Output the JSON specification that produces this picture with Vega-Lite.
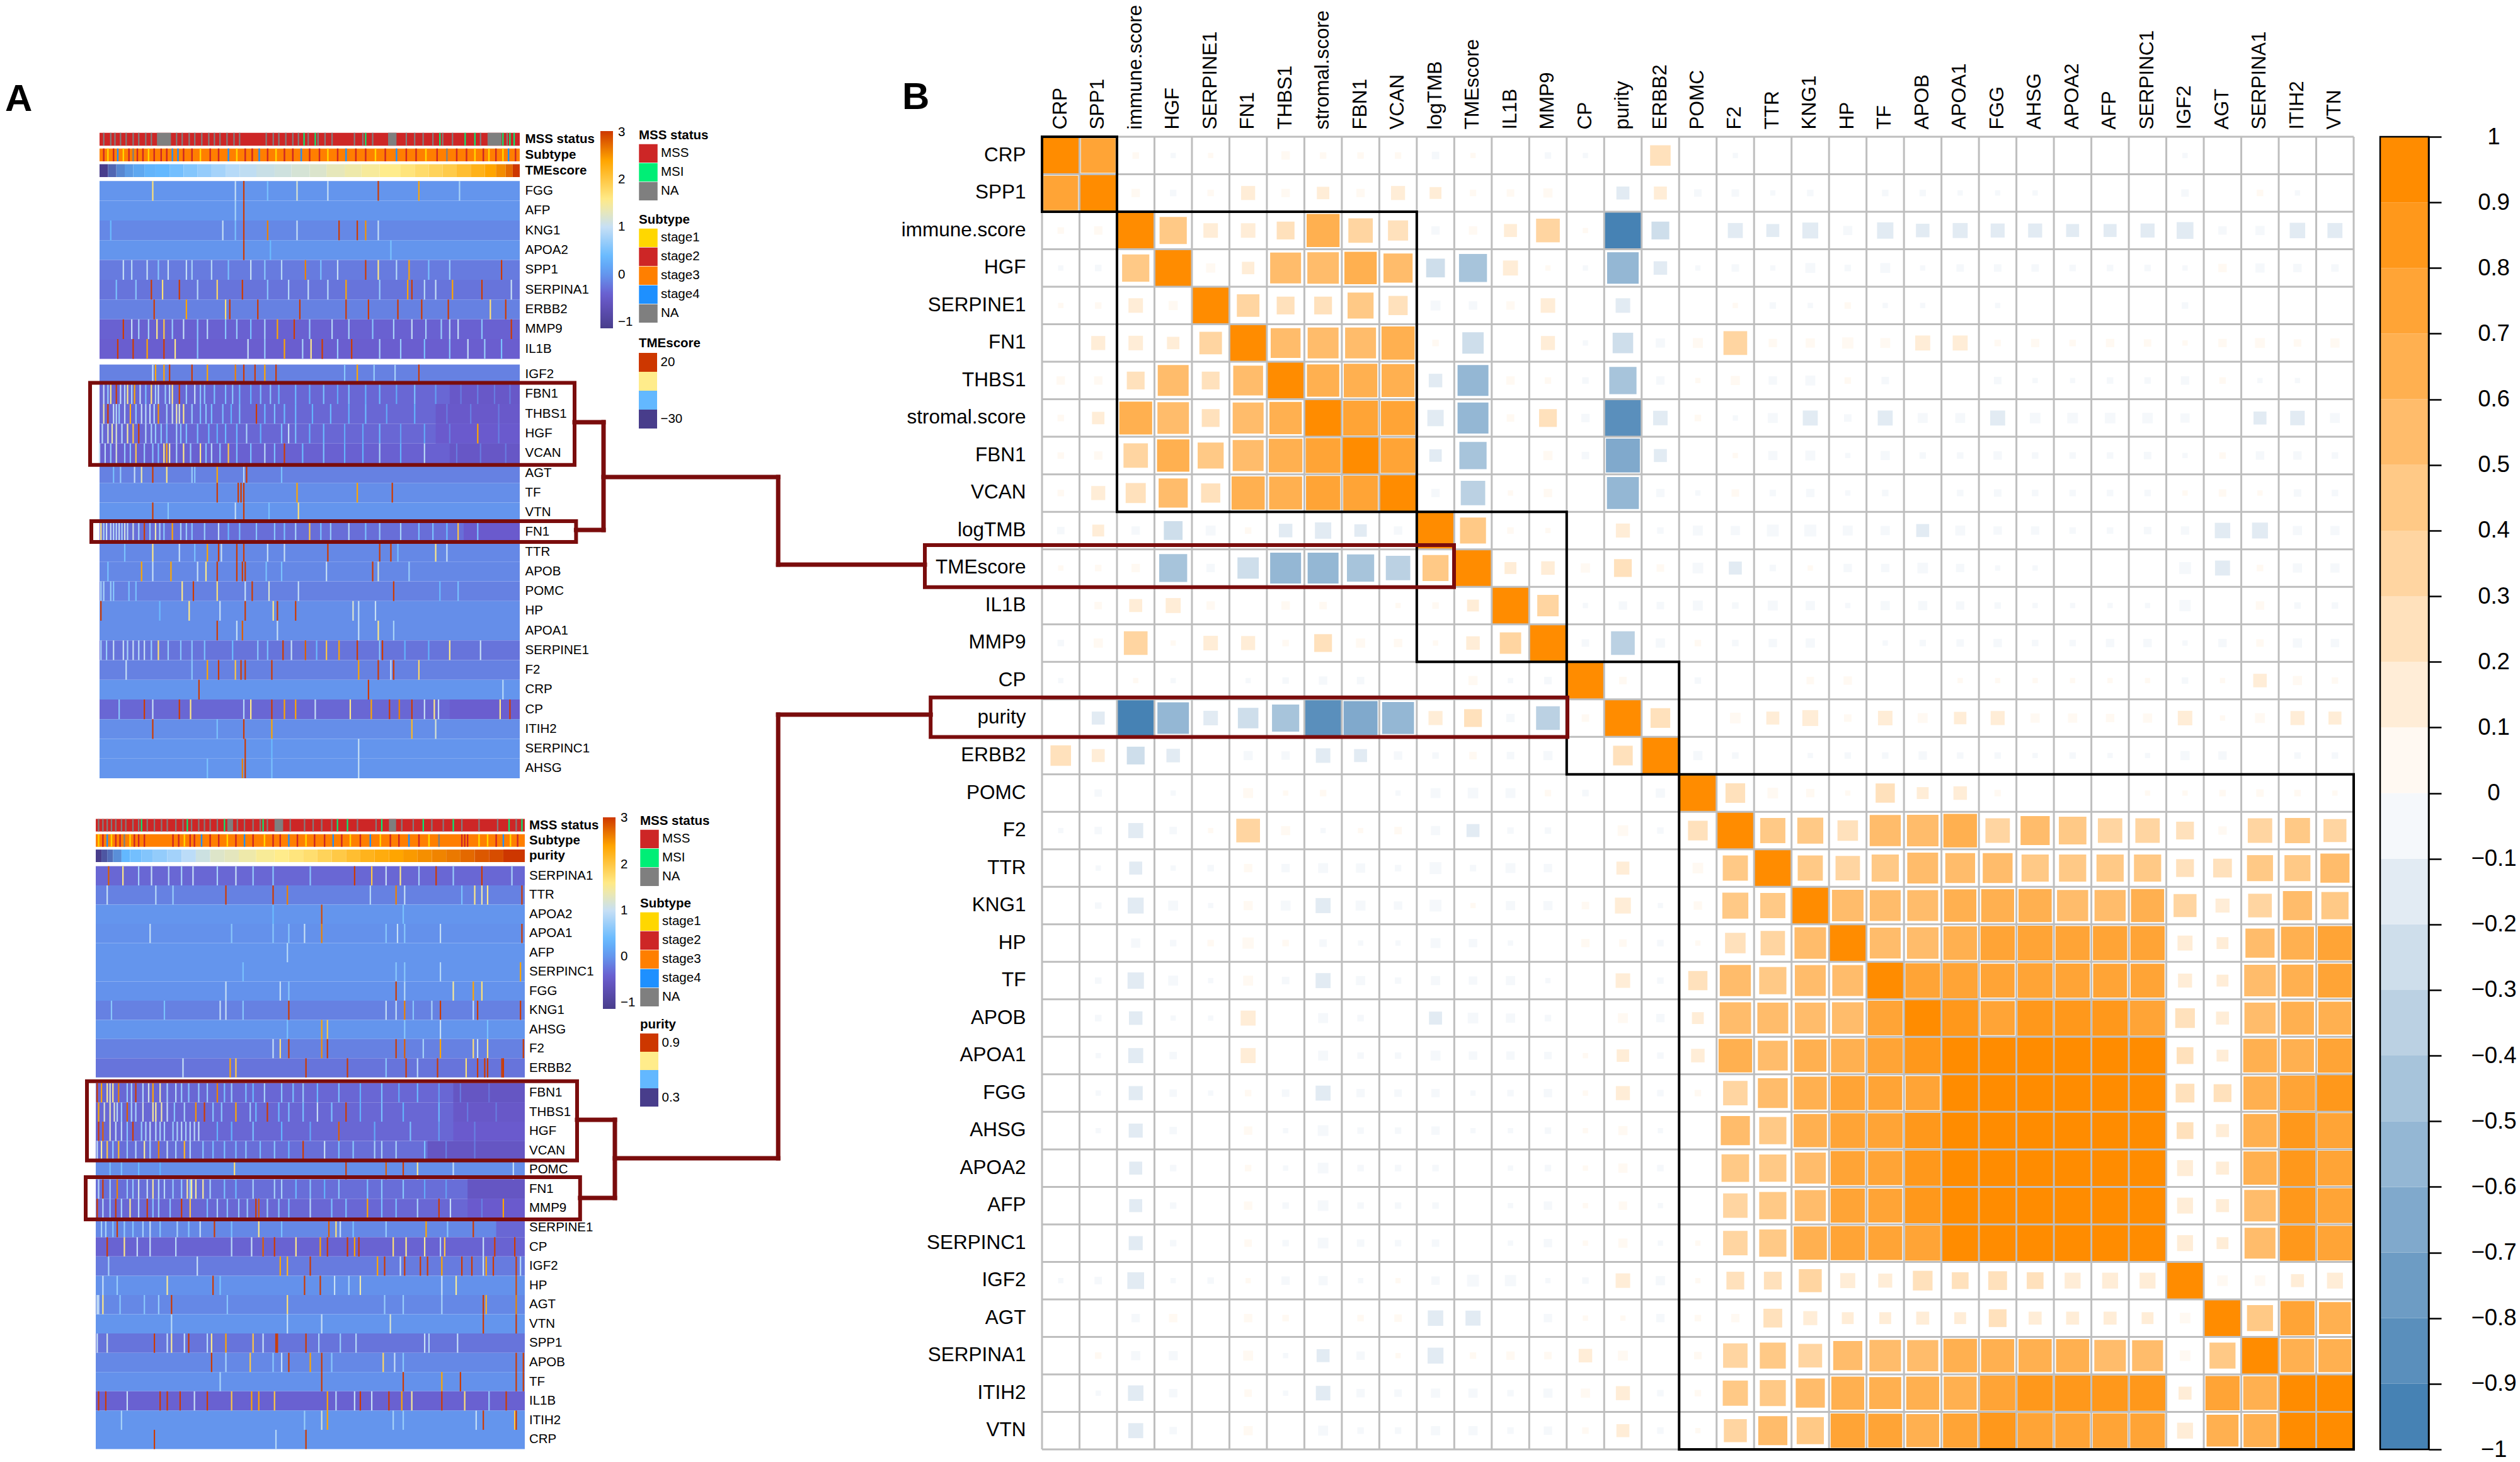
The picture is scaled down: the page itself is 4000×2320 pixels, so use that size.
{"$schema":"https://vega.github.io/schema/vega-lite/v6.json","width":4000,"height":2320,"autosize":{"type":"fit","contains":"padding"},"padding":0,"background":"white",
"config":{"view":{"stroke":null},"font":"Liberation Sans","axis":{"labelFont":"Liberation Sans","labelColor":"#000","ticks":false,"domain":false,"grid":false,"title":null,"labelOverlap":false,"labelBound":false,"labelFlush":false,"labelLimit":600},"legend":{"labelFont":"Liberation Sans","titleFont":"Liberation Sans","labelFontSize":20.5,"titleFontSize":20.5,"titleFontWeight":"bold","labelColor":"#000","titleColor":"#000","orient":"none","symbolType":"square","symbolSize":870,"symbolStrokeWidth":0,"symbolOpacity":1,"rowPadding":0,"titlePadding":3,"labelOffset":5,"clipHeight":29.6,"labelLimit":0}},
"datasets":{
"corr":[
{"a":"CRP","b":"CRP","r":1},{"a":"CRP","b":"SPP1","r":0.75},{"a":"CRP","b":"immune.score","r":0.03},{"a":"CRP","b":"HGF","r":-0.02},{"a":"CRP","b":"SERPINE1","r":0.02},{"a":"CRP","b":"THBS1","r":0.05},{"a":"CRP","b":"stromal.score","r":0.03},{"a":"CRP","b":"FBN1","r":0.03},{"a":"CRP","b":"VCAN","r":0.03},{"a":"CRP","b":"logTMB","r":-0.04},{"a":"CRP","b":"TMEscore","r":0.02},{"a":"CRP","b":"MMP9","r":-0.03},{"a":"CRP","b":"CP","r":-0.02},{"a":"CRP","b":"ERBB2","r":0.28},{"a":"CRP","b":"F2","r":-0.02},{"a":"CRP","b":"IGF2","r":-0.02},
{"a":"SPP1","b":"SPP1","r":1},{"a":"SPP1","b":"immune.score","r":0.05},{"a":"SPP1","b":"HGF","r":-0.03},{"a":"SPP1","b":"SERPINE1","r":0.03},{"a":"SPP1","b":"FN1","r":0.14},{"a":"SPP1","b":"THBS1","r":0.05},{"a":"SPP1","b":"stromal.score","r":0.11},{"a":"SPP1","b":"FBN1","r":0.05},{"a":"SPP1","b":"VCAN","r":0.14},{"a":"SPP1","b":"logTMB","r":0.1},{"a":"SPP1","b":"TMEscore","r":0.03},{"a":"SPP1","b":"IL1B","r":0.04},{"a":"SPP1","b":"MMP9","r":0.06},{"a":"SPP1","b":"purity","r":-0.12},{"a":"SPP1","b":"ERBB2","r":0.12},{"a":"SPP1","b":"POMC","r":-0.04},{"a":"SPP1","b":"F2","r":-0.04},{"a":"SPP1","b":"TTR","r":-0.02},{"a":"SPP1","b":"KNG1","r":-0.03},{"a":"SPP1","b":"TF","r":-0.03},{"a":"SPP1","b":"APOB","r":-0.03},{"a":"SPP1","b":"APOA1","r":-0.02},{"a":"SPP1","b":"FGG","r":-0.02},{"a":"SPP1","b":"AHSG","r":-0.02},{"a":"SPP1","b":"IGF2","r":-0.04},{"a":"SPP1","b":"SERPINA1","r":0.03},{"a":"SPP1","b":"ITIH2","r":-0.02},
{"a":"immune.score","b":"immune.score","r":1},{"a":"immune.score","b":"HGF","r":0.45},{"a":"immune.score","b":"SERPINE1","r":0.15},{"a":"immune.score","b":"FN1","r":0.15},{"a":"immune.score","b":"THBS1","r":0.22},{"a":"immune.score","b":"stromal.score","r":0.65},{"a":"immune.score","b":"FBN1","r":0.38},{"a":"immune.score","b":"VCAN","r":0.27},{"a":"immune.score","b":"logTMB","r":-0.05},{"a":"immune.score","b":"TMEscore","r":0.05},{"a":"immune.score","b":"IL1B","r":0.12},{"a":"immune.score","b":"MMP9","r":0.36},{"a":"immune.score","b":"CP","r":0.02},{"a":"immune.score","b":"purity","r":-0.95},{"a":"immune.score","b":"ERBB2","r":-0.22},{"a":"immune.score","b":"F2","r":-0.16},{"a":"immune.score","b":"TTR","r":-0.12},{"a":"immune.score","b":"KNG1","r":-0.18},{"a":"immune.score","b":"HP","r":-0.06},{"a":"immune.score","b":"TF","r":-0.19},{"a":"immune.score","b":"APOB","r":-0.13},{"a":"immune.score","b":"APOA1","r":-0.16},{"a":"immune.score","b":"FGG","r":-0.14},{"a":"immune.score","b":"AHSG","r":-0.14},{"a":"immune.score","b":"APOA2","r":-0.12},{"a":"immune.score","b":"AFP","r":-0.12},{"a":"immune.score","b":"SERPINC1","r":-0.14},{"a":"immune.score","b":"IGF2","r":-0.2},{"a":"immune.score","b":"AGT","r":-0.05},{"a":"immune.score","b":"SERPINA1","r":-0.06},{"a":"immune.score","b":"ITIH2","r":-0.17},{"a":"immune.score","b":"VTN","r":-0.16},
{"a":"HGF","b":"HGF","r":1},{"a":"HGF","b":"SERPINE1","r":0.06},{"a":"HGF","b":"FN1","r":0.11},{"a":"HGF","b":"THBS1","r":0.55},{"a":"HGF","b":"stromal.score","r":0.58},{"a":"HGF","b":"FBN1","r":0.62},{"a":"HGF","b":"VCAN","r":0.5},{"a":"HGF","b":"logTMB","r":-0.24},{"a":"HGF","b":"TMEscore","r":-0.47},{"a":"HGF","b":"IL1B","r":0.16},{"a":"HGF","b":"MMP9","r":0.02},{"a":"HGF","b":"CP","r":-0.02},{"a":"HGF","b":"purity","r":-0.58},{"a":"HGF","b":"ERBB2","r":-0.13},{"a":"HGF","b":"POMC","r":-0.02},{"a":"HGF","b":"F2","r":-0.04},{"a":"HGF","b":"TTR","r":-0.02},{"a":"HGF","b":"KNG1","r":-0.07},{"a":"HGF","b":"HP","r":-0.03},{"a":"HGF","b":"TF","r":-0.07},{"a":"HGF","b":"APOB","r":-0.02},{"a":"HGF","b":"APOA1","r":-0.04},{"a":"HGF","b":"FGG","r":-0.04},{"a":"HGF","b":"AHSG","r":-0.04},{"a":"HGF","b":"APOA2","r":-0.03},{"a":"HGF","b":"AFP","r":-0.03},{"a":"HGF","b":"SERPINC1","r":-0.03},{"a":"HGF","b":"IGF2","r":-0.02},{"a":"HGF","b":"AGT","r":0.05},{"a":"HGF","b":"SERPINA1","r":-0.06},{"a":"HGF","b":"ITIH2","r":-0.05},{"a":"HGF","b":"VTN","r":-0.04},
{"a":"SERPINE1","b":"SERPINE1","r":1},{"a":"SERPINE1","b":"FN1","r":0.33},{"a":"SERPINE1","b":"THBS1","r":0.22},{"a":"SERPINE1","b":"stromal.score","r":0.22},{"a":"SERPINE1","b":"FBN1","r":0.42},{"a":"SERPINE1","b":"VCAN","r":0.25},{"a":"SERPINE1","b":"logTMB","r":-0.07},{"a":"SERPINE1","b":"TMEscore","r":-0.05},{"a":"SERPINE1","b":"IL1B","r":0.05},{"a":"SERPINE1","b":"MMP9","r":0.15},{"a":"SERPINE1","b":"purity","r":-0.15},{"a":"SERPINE1","b":"F2","r":0.02},{"a":"SERPINE1","b":"TTR","r":-0.03},{"a":"SERPINE1","b":"KNG1","r":-0.02},{"a":"SERPINE1","b":"HP","r":0.03},{"a":"SERPINE1","b":"TF","r":-0.02},{"a":"SERPINE1","b":"APOB","r":-0.02},{"a":"SERPINE1","b":"FGG","r":-0.02},{"a":"SERPINE1","b":"IGF2","r":-0.03},
{"a":"FN1","b":"FN1","r":1},{"a":"FN1","b":"THBS1","r":0.52},{"a":"FN1","b":"stromal.score","r":0.55},{"a":"FN1","b":"FBN1","r":0.55},{"a":"FN1","b":"VCAN","r":0.66},{"a":"FN1","b":"logTMB","r":0.03},{"a":"FN1","b":"TMEscore","r":-0.3},{"a":"FN1","b":"MMP9","r":0.14},{"a":"FN1","b":"CP","r":-0.02},{"a":"FN1","b":"purity","r":-0.28},{"a":"FN1","b":"ERBB2","r":-0.06},{"a":"FN1","b":"POMC","r":0.07},{"a":"FN1","b":"F2","r":0.36},{"a":"FN1","b":"TTR","r":0.05},{"a":"FN1","b":"KNG1","r":0.06},{"a":"FN1","b":"HP","r":0.09},{"a":"FN1","b":"TF","r":0.07},{"a":"FN1","b":"APOB","r":0.16},{"a":"FN1","b":"APOA1","r":0.16},{"a":"FN1","b":"FGG","r":0.03},{"a":"FN1","b":"AHSG","r":0.05},{"a":"FN1","b":"APOA2","r":0.03},{"a":"FN1","b":"AFP","r":0.05},{"a":"FN1","b":"SERPINC1","r":0.04},{"a":"FN1","b":"IGF2","r":0.02},{"a":"FN1","b":"AGT","r":0.05},{"a":"FN1","b":"SERPINA1","r":0.07},{"a":"FN1","b":"ITIH2","r":0.04},{"a":"FN1","b":"VTN","r":0.06},
{"a":"THBS1","b":"THBS1","r":1},{"a":"THBS1","b":"stromal.score","r":0.62},{"a":"THBS1","b":"FBN1","r":0.68},{"a":"THBS1","b":"VCAN","r":0.65},{"a":"THBS1","b":"logTMB","r":-0.13},{"a":"THBS1","b":"TMEscore","r":-0.55},{"a":"THBS1","b":"IL1B","r":0.05},{"a":"THBS1","b":"MMP9","r":0.03},{"a":"THBS1","b":"CP","r":-0.03},{"a":"THBS1","b":"purity","r":-0.45},{"a":"THBS1","b":"ERBB2","r":-0.05},{"a":"THBS1","b":"POMC","r":0.02},{"a":"THBS1","b":"F2","r":0.06},{"a":"THBS1","b":"TTR","r":-0.05},{"a":"THBS1","b":"KNG1","r":-0.07},{"a":"THBS1","b":"HP","r":0.03},{"a":"THBS1","b":"TF","r":-0.04},{"a":"THBS1","b":"FGG","r":-0.04},{"a":"THBS1","b":"AHSG","r":-0.02},{"a":"THBS1","b":"APOA2","r":-0.02},{"a":"THBS1","b":"AFP","r":-0.03},{"a":"THBS1","b":"SERPINC1","r":-0.03},{"a":"THBS1","b":"IGF2","r":-0.05},{"a":"THBS1","b":"AGT","r":0.03},{"a":"THBS1","b":"SERPINA1","r":-0.02},{"a":"THBS1","b":"ITIH2","r":-0.02},
{"a":"stromal.score","b":"stromal.score","r":1},{"a":"stromal.score","b":"FBN1","r":0.76},{"a":"stromal.score","b":"VCAN","r":0.72},{"a":"stromal.score","b":"logTMB","r":-0.19},{"a":"stromal.score","b":"TMEscore","r":-0.55},{"a":"stromal.score","b":"IL1B","r":0.04},{"a":"stromal.score","b":"MMP9","r":0.22},{"a":"stromal.score","b":"CP","r":-0.05},{"a":"stromal.score","b":"purity","r":-0.87},{"a":"stromal.score","b":"ERBB2","r":-0.15},{"a":"stromal.score","b":"POMC","r":0.03},{"a":"stromal.score","b":"F2","r":-0.02},{"a":"stromal.score","b":"TTR","r":-0.07},{"a":"stromal.score","b":"KNG1","r":-0.16},{"a":"stromal.score","b":"HP","r":-0.04},{"a":"stromal.score","b":"TF","r":-0.16},{"a":"stromal.score","b":"APOB","r":-0.07},{"a":"stromal.score","b":"APOA1","r":-0.07},{"a":"stromal.score","b":"FGG","r":-0.16},{"a":"stromal.score","b":"AHSG","r":-0.08},{"a":"stromal.score","b":"APOA2","r":-0.08},{"a":"stromal.score","b":"AFP","r":-0.08},{"a":"stromal.score","b":"SERPINC1","r":-0.08},{"a":"stromal.score","b":"IGF2","r":-0.06},{"a":"stromal.score","b":"SERPINA1","r":-0.12},{"a":"stromal.score","b":"ITIH2","r":-0.15},{"a":"stromal.score","b":"VTN","r":-0.07},
{"a":"FBN1","b":"FBN1","r":1},{"a":"FBN1","b":"VCAN","r":0.75},{"a":"FBN1","b":"logTMB","r":-0.11},{"a":"FBN1","b":"TMEscore","r":-0.45},{"a":"FBN1","b":"MMP9","r":0.06},{"a":"FBN1","b":"CP","r":-0.04},{"a":"FBN1","b":"purity","r":-0.7},{"a":"FBN1","b":"ERBB2","r":-0.12},{"a":"FBN1","b":"F2","r":0.02},{"a":"FBN1","b":"TTR","r":-0.06},{"a":"FBN1","b":"KNG1","r":-0.07},{"a":"FBN1","b":"HP","r":-0.02},{"a":"FBN1","b":"TF","r":-0.06},{"a":"FBN1","b":"APOB","r":-0.03},{"a":"FBN1","b":"APOA1","r":-0.03},{"a":"FBN1","b":"FGG","r":-0.05},{"a":"FBN1","b":"AHSG","r":-0.03},{"a":"FBN1","b":"APOA2","r":-0.03},{"a":"FBN1","b":"AFP","r":-0.03},{"a":"FBN1","b":"SERPINC1","r":-0.04},{"a":"FBN1","b":"IGF2","r":-0.02},{"a":"FBN1","b":"AGT","r":0.03},{"a":"FBN1","b":"SERPINA1","r":-0.05},{"a":"FBN1","b":"ITIH2","r":-0.05},{"a":"FBN1","b":"VTN","r":-0.03},
{"a":"VCAN","b":"VCAN","r":1},{"a":"VCAN","b":"logTMB","r":-0.05},{"a":"VCAN","b":"TMEscore","r":-0.38},{"a":"VCAN","b":"IL1B","r":0.02},{"a":"VCAN","b":"MMP9","r":0.05},{"a":"VCAN","b":"purity","r":-0.6},{"a":"VCAN","b":"ERBB2","r":-0.05},{"a":"VCAN","b":"POMC","r":-0.02},{"a":"VCAN","b":"F2","r":0.04},{"a":"VCAN","b":"TTR","r":-0.03},{"a":"VCAN","b":"KNG1","r":-0.05},{"a":"VCAN","b":"HP","r":-0.02},{"a":"VCAN","b":"TF","r":-0.03},{"a":"VCAN","b":"APOA1","r":-0.03},{"a":"VCAN","b":"FGG","r":-0.04},{"a":"VCAN","b":"AHSG","r":-0.03},{"a":"VCAN","b":"APOA2","r":-0.03},{"a":"VCAN","b":"AFP","r":-0.03},{"a":"VCAN","b":"SERPINC1","r":-0.03},{"a":"VCAN","b":"IGF2","r":0.02},{"a":"VCAN","b":"AGT","r":0.04},{"a":"VCAN","b":"SERPINA1","r":0.02},{"a":"VCAN","b":"ITIH2","r":-0.04},{"a":"VCAN","b":"VTN","r":-0.03},
{"a":"logTMB","b":"logTMB","r":1},{"a":"logTMB","b":"TMEscore","r":0.42},{"a":"logTMB","b":"IL1B","r":0.03},{"a":"logTMB","b":"MMP9","r":0.02},{"a":"logTMB","b":"purity","r":0.14},{"a":"logTMB","b":"ERBB2","r":-0.03},{"a":"logTMB","b":"POMC","r":-0.07},{"a":"logTMB","b":"F2","r":-0.06},{"a":"logTMB","b":"TTR","r":-0.1},{"a":"logTMB","b":"KNG1","r":-0.1},{"a":"logTMB","b":"HP","r":-0.07},{"a":"logTMB","b":"TF","r":-0.06},{"a":"logTMB","b":"APOB","r":-0.12},{"a":"logTMB","b":"APOA1","r":-0.07},{"a":"logTMB","b":"FGG","r":-0.05},{"a":"logTMB","b":"AHSG","r":-0.05},{"a":"logTMB","b":"APOA2","r":-0.03},{"a":"logTMB","b":"AFP","r":-0.03},{"a":"logTMB","b":"SERPINC1","r":-0.04},{"a":"logTMB","b":"IGF2","r":-0.05},{"a":"logTMB","b":"AGT","r":-0.17},{"a":"logTMB","b":"SERPINA1","r":-0.18},{"a":"logTMB","b":"ITIH2","r":-0.06},{"a":"logTMB","b":"VTN","r":-0.06},
{"a":"TMEscore","b":"TMEscore","r":1},{"a":"TMEscore","b":"IL1B","r":0.1},{"a":"TMEscore","b":"MMP9","r":0.13},{"a":"TMEscore","b":"CP","r":0.06},{"a":"TMEscore","b":"purity","r":0.22},{"a":"TMEscore","b":"ERBB2","r":0.04},{"a":"TMEscore","b":"POMC","r":-0.08},{"a":"TMEscore","b":"F2","r":-0.12},{"a":"TMEscore","b":"TTR","r":-0.03},{"a":"TMEscore","b":"KNG1","r":0.02},{"a":"TMEscore","b":"HP","r":-0.05},{"a":"TMEscore","b":"TF","r":-0.05},{"a":"TMEscore","b":"APOB","r":-0.08},{"a":"TMEscore","b":"APOA1","r":-0.05},{"a":"TMEscore","b":"FGG","r":-0.02},{"a":"TMEscore","b":"AHSG","r":-0.02},{"a":"TMEscore","b":"IGF2","r":-0.1},{"a":"TMEscore","b":"AGT","r":-0.16},{"a":"TMEscore","b":"SERPINA1","r":0.03},{"a":"TMEscore","b":"ITIH2","r":-0.06},{"a":"TMEscore","b":"VTN","r":-0.06},
{"a":"IL1B","b":"IL1B","r":1},{"a":"IL1B","b":"MMP9","r":0.3},{"a":"IL1B","b":"CP","r":-0.02},{"a":"IL1B","b":"purity","r":-0.05},{"a":"IL1B","b":"ERBB2","r":-0.04},{"a":"IL1B","b":"POMC","r":-0.07},{"a":"IL1B","b":"F2","r":-0.03},{"a":"IL1B","b":"TTR","r":-0.07},{"a":"IL1B","b":"KNG1","r":-0.06},{"a":"IL1B","b":"HP","r":-0.02},{"a":"IL1B","b":"TF","r":-0.06},{"a":"IL1B","b":"APOB","r":-0.06},{"a":"IL1B","b":"APOA1","r":-0.05},{"a":"IL1B","b":"FGG","r":-0.03},{"a":"IL1B","b":"AHSG","r":-0.02},{"a":"IL1B","b":"APOA2","r":-0.02},{"a":"IL1B","b":"AFP","r":-0.02},{"a":"IL1B","b":"SERPINC1","r":-0.02},{"a":"IL1B","b":"IGF2","r":-0.09},{"a":"IL1B","b":"SERPINA1","r":0.05},{"a":"IL1B","b":"ITIH2","r":-0.03},{"a":"IL1B","b":"VTN","r":-0.03},
{"a":"MMP9","b":"MMP9","r":1},{"a":"MMP9","b":"CP","r":-0.04},{"a":"MMP9","b":"purity","r":-0.36},{"a":"MMP9","b":"ERBB2","r":-0.06},{"a":"MMP9","b":"POMC","r":0.03},{"a":"MMP9","b":"F2","r":-0.03},{"a":"MMP9","b":"TTR","r":-0.05},{"a":"MMP9","b":"KNG1","r":-0.06},{"a":"MMP9","b":"TF","r":-0.02},{"a":"MMP9","b":"APOB","r":-0.03},{"a":"MMP9","b":"APOA1","r":-0.04},{"a":"MMP9","b":"FGG","r":-0.05},{"a":"MMP9","b":"AHSG","r":-0.03},{"a":"MMP9","b":"APOA2","r":-0.03},{"a":"MMP9","b":"AFP","r":-0.05},{"a":"MMP9","b":"SERPINC1","r":-0.05},{"a":"MMP9","b":"IGF2","r":-0.02},{"a":"MMP9","b":"AGT","r":-0.05},{"a":"MMP9","b":"SERPINA1","r":0.04},{"a":"MMP9","b":"ITIH2","r":-0.06},{"a":"MMP9","b":"VTN","r":-0.05},
{"a":"CP","b":"CP","r":1},{"a":"CP","b":"purity","r":0.04},{"a":"CP","b":"POMC","r":-0.03},{"a":"CP","b":"KNG1","r":0.04},{"a":"CP","b":"HP","r":0.05},{"a":"CP","b":"APOA1","r":0.02},{"a":"CP","b":"FGG","r":0.02},{"a":"CP","b":"AHSG","r":0.02},{"a":"CP","b":"APOA2","r":0.02},{"a":"CP","b":"AFP","r":0.02},{"a":"CP","b":"SERPINC1","r":0.02},{"a":"CP","b":"IGF2","r":-0.03},{"a":"CP","b":"AGT","r":0.02},{"a":"CP","b":"SERPINA1","r":0.13},{"a":"CP","b":"ITIH2","r":0.06},{"a":"CP","b":"VTN","r":0.03},
{"a":"purity","b":"purity","r":1},{"a":"purity","b":"ERBB2","r":0.26},{"a":"purity","b":"F2","r":0.08},{"a":"purity","b":"TTR","r":0.12},{"a":"purity","b":"KNG1","r":0.18},{"a":"purity","b":"HP","r":0.04},{"a":"purity","b":"TF","r":0.15},{"a":"purity","b":"APOB","r":0.07},{"a":"purity","b":"APOA1","r":0.11},{"a":"purity","b":"FGG","r":0.14},{"a":"purity","b":"AHSG","r":0.06},{"a":"purity","b":"APOA2","r":0.06},{"a":"purity","b":"AFP","r":0.05},{"a":"purity","b":"SERPINC1","r":0.06},{"a":"purity","b":"IGF2","r":0.15},{"a":"purity","b":"AGT","r":0.02},{"a":"purity","b":"SERPINA1","r":0.07},{"a":"purity","b":"ITIH2","r":0.14},{"a":"purity","b":"VTN","r":0.12},
{"a":"ERBB2","b":"ERBB2","r":1},{"a":"ERBB2","b":"POMC","r":-0.06},{"a":"ERBB2","b":"F2","r":-0.03},{"a":"ERBB2","b":"KNG1","r":-0.02},{"a":"ERBB2","b":"HP","r":-0.03},{"a":"ERBB2","b":"TF","r":-0.03},{"a":"ERBB2","b":"APOB","r":-0.05},{"a":"ERBB2","b":"APOA1","r":-0.03},{"a":"ERBB2","b":"FGG","r":-0.03},{"a":"ERBB2","b":"AHSG","r":-0.02},{"a":"ERBB2","b":"APOA2","r":-0.03},{"a":"ERBB2","b":"AFP","r":-0.02},{"a":"ERBB2","b":"SERPINC1","r":-0.02},{"a":"ERBB2","b":"IGF2","r":-0.06},{"a":"ERBB2","b":"AGT","r":-0.05},{"a":"ERBB2","b":"ITIH2","r":-0.03},{"a":"ERBB2","b":"VTN","r":-0.03},
{"a":"POMC","b":"POMC","r":1},{"a":"POMC","b":"F2","r":0.26},{"a":"POMC","b":"TTR","r":0.08},{"a":"POMC","b":"KNG1","r":0.05},{"a":"POMC","b":"HP","r":0.02},{"a":"POMC","b":"TF","r":0.25},{"a":"POMC","b":"APOB","r":0.1},{"a":"POMC","b":"APOA1","r":0.13},{"a":"POMC","b":"FGG","r":0.03},{"a":"POMC","b":"SERPINC1","r":0.02},{"a":"POMC","b":"IGF2","r":0.02},{"a":"POMC","b":"AGT","r":0.03},{"a":"POMC","b":"SERPINA1","r":0.04},{"a":"POMC","b":"ITIH2","r":0.03},{"a":"POMC","b":"VTN","r":0.02},
{"a":"F2","b":"F2","r":1},{"a":"F2","b":"TTR","r":0.4},{"a":"F2","b":"KNG1","r":0.42},{"a":"F2","b":"HP","r":0.28},{"a":"F2","b":"TF","r":0.56},{"a":"F2","b":"APOB","r":0.58},{"a":"F2","b":"APOA1","r":0.68},{"a":"F2","b":"FGG","r":0.38},{"a":"F2","b":"AHSG","r":0.5},{"a":"F2","b":"APOA2","r":0.46},{"a":"F2","b":"AFP","r":0.38},{"a":"F2","b":"SERPINC1","r":0.38},{"a":"F2","b":"IGF2","r":0.22},{"a":"F2","b":"AGT","r":0.05},{"a":"F2","b":"SERPINA1","r":0.38},{"a":"F2","b":"ITIH2","r":0.4},{"a":"F2","b":"VTN","r":0.34},
{"a":"TTR","b":"TTR","r":1},{"a":"TTR","b":"KNG1","r":0.4},{"a":"TTR","b":"HP","r":0.38},{"a":"TTR","b":"TF","r":0.45},{"a":"TTR","b":"APOB","r":0.55},{"a":"TTR","b":"APOA1","r":0.52},{"a":"TTR","b":"FGG","r":0.52},{"a":"TTR","b":"AHSG","r":0.45},{"a":"TTR","b":"APOA2","r":0.45},{"a":"TTR","b":"AFP","r":0.45},{"a":"TTR","b":"SERPINC1","r":0.45},{"a":"TTR","b":"IGF2","r":0.22},{"a":"TTR","b":"AGT","r":0.24},{"a":"TTR","b":"SERPINA1","r":0.42},{"a":"TTR","b":"ITIH2","r":0.42},{"a":"TTR","b":"VTN","r":0.5},
{"a":"KNG1","b":"KNG1","r":1},{"a":"KNG1","b":"HP","r":0.58},{"a":"KNG1","b":"TF","r":0.55},{"a":"KNG1","b":"APOB","r":0.55},{"a":"KNG1","b":"APOA1","r":0.62},{"a":"KNG1","b":"FGG","r":0.65},{"a":"KNG1","b":"AHSG","r":0.66},{"a":"KNG1","b":"APOA2","r":0.56},{"a":"KNG1","b":"AFP","r":0.56},{"a":"KNG1","b":"SERPINC1","r":0.66},{"a":"KNG1","b":"IGF2","r":0.34},{"a":"KNG1","b":"AGT","r":0.14},{"a":"KNG1","b":"SERPINA1","r":0.36},{"a":"KNG1","b":"ITIH2","r":0.5},{"a":"KNG1","b":"VTN","r":0.45},
{"a":"HP","b":"HP","r":1},{"a":"HP","b":"TF","r":0.55},{"a":"HP","b":"APOB","r":0.58},{"a":"HP","b":"APOA1","r":0.68},{"a":"HP","b":"FGG","r":0.72},{"a":"HP","b":"AHSG","r":0.75},{"a":"HP","b":"APOA2","r":0.72},{"a":"HP","b":"AFP","r":0.72},{"a":"HP","b":"SERPINC1","r":0.72},{"a":"HP","b":"IGF2","r":0.16},{"a":"HP","b":"AGT","r":0.1},{"a":"HP","b":"SERPINA1","r":0.5},{"a":"HP","b":"ITIH2","r":0.65},{"a":"HP","b":"VTN","r":0.72},
{"a":"TF","b":"TF","r":1},{"a":"TF","b":"APOB","r":0.75},{"a":"TF","b":"APOA1","r":0.78},{"a":"TF","b":"FGG","r":0.7},{"a":"TF","b":"AHSG","r":0.75},{"a":"TF","b":"APOA2","r":0.72},{"a":"TF","b":"AFP","r":0.7},{"a":"TF","b":"SERPINC1","r":0.7},{"a":"TF","b":"IGF2","r":0.14},{"a":"TF","b":"AGT","r":0.1},{"a":"TF","b":"SERPINA1","r":0.58},{"a":"TF","b":"ITIH2","r":0.6},{"a":"TF","b":"VTN","r":0.7},
{"a":"APOB","b":"APOB","r":1},{"a":"APOB","b":"APOA1","r":0.85},{"a":"APOB","b":"FGG","r":0.72},{"a":"APOB","b":"AHSG","r":0.8},{"a":"APOB","b":"APOA2","r":0.8},{"a":"APOB","b":"AFP","r":0.8},{"a":"APOB","b":"SERPINC1","r":0.78},{"a":"APOB","b":"IGF2","r":0.26},{"a":"APOB","b":"AGT","r":0.12},{"a":"APOB","b":"SERPINA1","r":0.56},{"a":"APOB","b":"ITIH2","r":0.65},{"a":"APOB","b":"VTN","r":0.65},
{"a":"APOA1","b":"APOA1","r":1},{"a":"APOA1","b":"FGG","r":0.92},{"a":"APOA1","b":"AHSG","r":0.92},{"a":"APOA1","b":"APOA2","r":0.92},{"a":"APOA1","b":"AFP","r":0.92},{"a":"APOA1","b":"SERPINC1","r":0.92},{"a":"APOA1","b":"IGF2","r":0.2},{"a":"APOA1","b":"AGT","r":0.1},{"a":"APOA1","b":"SERPINA1","r":0.68},{"a":"APOA1","b":"ITIH2","r":0.65},{"a":"APOA1","b":"VTN","r":0.72},
{"a":"FGG","b":"FGG","r":1},{"a":"FGG","b":"AHSG","r":0.95},{"a":"FGG","b":"APOA2","r":0.95},{"a":"FGG","b":"AFP","r":0.95},{"a":"FGG","b":"SERPINC1","r":0.95},{"a":"FGG","b":"IGF2","r":0.24},{"a":"FGG","b":"AGT","r":0.22},{"a":"FGG","b":"SERPINA1","r":0.66},{"a":"FGG","b":"ITIH2","r":0.78},{"a":"FGG","b":"VTN","r":0.85},
{"a":"AHSG","b":"AHSG","r":1},{"a":"AHSG","b":"APOA2","r":0.95},{"a":"AHSG","b":"AFP","r":0.95},{"a":"AHSG","b":"SERPINC1","r":0.95},{"a":"AHSG","b":"IGF2","r":0.2},{"a":"AHSG","b":"AGT","r":0.12},{"a":"AHSG","b":"SERPINA1","r":0.66},{"a":"AHSG","b":"ITIH2","r":0.8},{"a":"AHSG","b":"VTN","r":0.78},
{"a":"APOA2","b":"APOA2","r":1},{"a":"APOA2","b":"AFP","r":0.95},{"a":"APOA2","b":"SERPINC1","r":0.95},{"a":"APOA2","b":"IGF2","r":0.18},{"a":"APOA2","b":"AGT","r":0.12},{"a":"APOA2","b":"SERPINA1","r":0.66},{"a":"APOA2","b":"ITIH2","r":0.82},{"a":"APOA2","b":"VTN","r":0.75},
{"a":"AFP","b":"AFP","r":1},{"a":"AFP","b":"SERPINC1","r":0.95},{"a":"AFP","b":"IGF2","r":0.18},{"a":"AFP","b":"AGT","r":0.12},{"a":"AFP","b":"SERPINA1","r":0.58},{"a":"AFP","b":"ITIH2","r":0.82},{"a":"AFP","b":"VTN","r":0.75},
{"a":"SERPINC1","b":"SERPINC1","r":1},{"a":"SERPINC1","b":"IGF2","r":0.18},{"a":"SERPINC1","b":"AGT","r":0.1},{"a":"SERPINC1","b":"SERPINA1","r":0.55},{"a":"SERPINC1","b":"ITIH2","r":0.8},{"a":"SERPINC1","b":"VTN","r":0.75},
{"a":"IGF2","b":"IGF2","r":1},{"a":"IGF2","b":"AGT","r":0.08},{"a":"IGF2","b":"SERPINA1","r":0.08},{"a":"IGF2","b":"ITIH2","r":0.12},{"a":"IGF2","b":"VTN","r":0.18},
{"a":"AGT","b":"AGT","r":1},{"a":"AGT","b":"SERPINA1","r":0.42},{"a":"AGT","b":"ITIH2","r":0.72},{"a":"AGT","b":"VTN","r":0.6},
{"a":"SERPINA1","b":"SERPINA1","r":1},{"a":"SERPINA1","b":"ITIH2","r":0.68},{"a":"SERPINA1","b":"VTN","r":0.65},
{"a":"ITIH2","b":"ITIH2","r":1},{"a":"ITIH2","b":"VTN","r":0.92},{"a":"VTN","b":"VTN","r":1}],
"lines":[{"i":0},{"i":1},{"i":2},{"i":3},{"i":4},{"i":5},{"i":6},{"i":7},{"i":8},{"i":9},{"i":10},{"i":11},{"i":12},{"i":13},{"i":14},{"i":15},{"i":16},{"i":17},{"i":18},{"i":19},{"i":20},{"i":21},{"i":22},{"i":23},{"i":24},{"i":25},{"i":26},{"i":27},{"i":28},{"i":29},{"i":30},{"i":31},{"i":32},{"i":33},{"i":34},{"i":35}],
"a1base":[{"g":"FGG","c":0,"c2":300,"v":0},{"g":"AFP","c":0,"c2":300,"v":0},{"g":"KNG1","c":0,"c2":300,"v":-0.1},{"g":"APOA2","c":0,"c2":300,"v":0},{"g":"SPP1","c":0,"c2":300,"v":-0.2},{"g":"SERPINA1","c":0,"c2":300,"v":-0.25},{"g":"ERBB2","c":0,"c2":300,"v":-0.15},{"g":"MMP9","c":0,"c2":300,"v":-0.4},{"g":"IL1B","c":0,"c2":300,"v":-0.42}],
"a1":[{"g":"FGG","c":38,"v":1.7},{"g":"FGG","c":97,"v":1},{"g":"FGG","c":103,"v":3},{"g":"FGG","c":120,"v":0.5},{"g":"FGG","c":141,"v":1.2},{"g":"FGG","c":163,"v":1},{"g":"FGG","c":199,"v":3},{"g":"FGG","c":228,"v":2.4},{"g":"FGG","c":257,"v":0.8},{"g":"AFP","c":97,"v":0.8},{"g":"AFP","c":103,"v":3},{"g":"KNG1","c":8,"v":0.4},{"g":"KNG1","c":88,"v":1},{"g":"KNG1","c":97,"v":0.5},{"g":"KNG1","c":103,"v":3},{"g":"KNG1","c":120,"v":2.6},{"g":"KNG1","c":141,"v":1},{"g":"KNG1","c":171,"v":3},{"g":"KNG1","c":184,"v":3},{"g":"KNG1","c":190,"v":2.5},{"g":"KNG1","c":199,"v":1},{"g":"APOA2","c":103,"v":3},{"g":"APOA2","c":122,"v":0.4},{"g":"APOA2","c":208,"v":0.5},{"g":"SPP1","c":17,"v":1},{"g":"SPP1","c":23,"v":0.9},{"g":"SPP1","c":34,"v":1},{"g":"SPP1","c":49,"v":1},{"g":"SPP1","c":62,"v":1},{"g":"SPP1","c":66,"v":0.8},{"g":"SPP1","c":80,"v":0.9},{"g":"SPP1","c":108,"v":1},{"g":"SPP1","c":118,"v":0.6},{"g":"SPP1","c":147,"v":2.6},{"g":"SPP1","c":170,"v":1},{"g":"SPP1","c":190,"v":3},{"g":"SPP1","c":199,"v":1.6},{"g":"SPP1","c":221,"v":2.4},{"g":"SPP1","c":250,"v":0.7},{"g":"SPP1","c":287,"v":3},{"g":"SPP1","c":42,"v":0.6},{"g":"SPP1","c":92,"v":0.5},{"g":"SPP1","c":130,"v":0.9},{"g":"SPP1","c":158,"v":0.5},{"g":"SPP1","c":212,"v":0.9},{"g":"SPP1","c":235,"v":0.5},{"g":"SERPINA1","c":37,"v":3},{"g":"SERPINA1","c":45,"v":1.7},{"g":"SERPINA1","c":57,"v":3},{"g":"SERPINA1","c":84,"v":1.8},{"g":"SERPINA1","c":102,"v":3},{"g":"SERPINA1","c":149,"v":1},{"g":"SERPINA1","c":176,"v":2.4},{"g":"SERPINA1","c":220,"v":2.4},{"g":"SERPINA1","c":223,"v":3},{"g":"SERPINA1","c":240,"v":1},{"g":"SERPINA1","c":252,"v":2.4},{"g":"SERPINA1","c":273,"v":3},{"g":"SERPINA1","c":294,"v":1},{"g":"SERPINA1","c":12,"v":0.5},{"g":"SERPINA1","c":26,"v":0.6},{"g":"SERPINA1","c":70,"v":0.9},{"g":"SERPINA1","c":120,"v":0.6},{"g":"SERPINA1","c":135,"v":0.9},{"g":"SERPINA1","c":163,"v":0.9},{"g":"SERPINA1","c":200,"v":0.7},{"g":"SERPINA1","c":232,"v":0.9},{"g":"ERBB2","c":39,"v":3},{"g":"ERBB2","c":62,"v":2.4},{"g":"ERBB2","c":90,"v":1.7},{"g":"ERBB2","c":93,"v":3},{"g":"ERBB2","c":113,"v":3},{"g":"ERBB2","c":143,"v":3},{"g":"ERBB2","c":176,"v":3},{"g":"ERBB2","c":192,"v":3},{"g":"ERBB2","c":213,"v":3},{"g":"ERBB2","c":230,"v":3},{"g":"ERBB2","c":249,"v":3},{"g":"ERBB2","c":279,"v":1.7},{"g":"ERBB2","c":290,"v":3},{"g":"MMP9","c":17,"v":3},{"g":"MMP9","c":23,"v":1},{"g":"MMP9","c":41,"v":1.6},{"g":"MMP9","c":46,"v":2},{"g":"MMP9","c":60,"v":1},{"g":"MMP9","c":77,"v":0.9},{"g":"MMP9","c":90,"v":0.6},{"g":"MMP9","c":108,"v":0.5},{"g":"MMP9","c":127,"v":2.4},{"g":"MMP9","c":139,"v":3},{"g":"MMP9","c":166,"v":0.9},{"g":"MMP9","c":223,"v":1},{"g":"MMP9","c":244,"v":0.7},{"g":"MMP9","c":256,"v":1},{"g":"MMP9","c":273,"v":0.6},{"g":"MMP9","c":294,"v":3},{"g":"MMP9","c":28,"v":0.8},{"g":"MMP9","c":35,"v":0.8},{"g":"MMP9","c":52,"v":0.7},{"g":"MMP9","c":70,"v":0.6},{"g":"MMP9","c":98,"v":0.7},{"g":"MMP9","c":118,"v":0.8},{"g":"MMP9","c":150,"v":0.7},{"g":"MMP9","c":178,"v":0.8},{"g":"MMP9","c":195,"v":0.6},{"g":"MMP9","c":210,"v":0.8},{"g":"MMP9","c":233,"v":0.8},{"g":"MMP9","c":250,"v":0.9},{"g":"IL1B","c":13,"v":3},{"g":"IL1B","c":24,"v":3},{"g":"IL1B","c":34,"v":2.4},{"g":"IL1B","c":46,"v":3},{"g":"IL1B","c":54,"v":1.6},{"g":"IL1B","c":106,"v":1},{"g":"IL1B","c":132,"v":2.4},{"g":"IL1B","c":151,"v":1.6},{"g":"IL1B","c":159,"v":3},{"g":"IL1B","c":180,"v":3},{"g":"IL1B","c":232,"v":0.5},{"g":"IL1B","c":263,"v":1},{"g":"IL1B","c":287,"v":0.5},{"g":"IL1B","c":70,"v":0.6},{"g":"IL1B","c":118,"v":0.7},{"g":"IL1B","c":145,"v":0.8},{"g":"IL1B","c":170,"v":0.7},{"g":"IL1B","c":200,"v":0.8},{"g":"IL1B","c":215,"v":0.7},{"g":"IL1B","c":250,"v":0.6},{"g":"IL1B","c":275,"v":0.7}],
"a2base":[{"g":"IGF2","c":0,"c2":300,"v":-0.15},{"g":"FBN1","c":0,"c2":300,"v":-0.35},{"g":"FBN1","c":250,"c2":300,"v":-0.5},{"g":"THBS1","c":0,"c2":300,"v":-0.35},{"g":"THBS1","c":240,"c2":300,"v":-0.48},{"g":"HGF","c":0,"c2":300,"v":-0.35},{"g":"HGF","c":240,"c2":300,"v":-0.45},{"g":"VCAN","c":0,"c2":300,"v":-0.4},{"g":"VCAN","c":250,"c2":300,"v":-0.52},{"g":"AGT","c":0,"c2":300,"v":-0.15},{"g":"TF","c":0,"c2":300,"v":-0.05},{"g":"VTN","c":0,"c2":300,"v":0},{"g":"FN1","c":0,"c2":300,"v":-0.3},{"g":"FN1","c":260,"c2":300,"v":-0.45},{"g":"TTR","c":0,"c2":300,"v":-0.1},{"g":"APOB","c":0,"c2":300,"v":-0.1},{"g":"POMC","c":0,"c2":300,"v":-0.15},{"g":"HP","c":0,"c2":300,"v":-0.05},{"g":"APOA1","c":0,"c2":300,"v":-0.05},{"g":"SERPINE1","c":0,"c2":300,"v":-0.25},{"g":"F2","c":0,"c2":300,"v":-0.15},{"g":"CRP","c":0,"c2":300,"v":0},{"g":"CP","c":0,"c2":300,"v":-0.35},{"g":"CP","c":250,"c2":300,"v":-0.42},{"g":"ITIH2","c":0,"c2":300,"v":-0.05},{"g":"SERPINC1","c":0,"c2":300,"v":0},{"g":"AHSG","c":0,"c2":300,"v":0}],
"a2":[{"g":"IGF2","c":38,"v":1},{"g":"IGF2","c":40,"v":2.4},{"g":"IGF2","c":46,"v":2.4},{"g":"IGF2","c":50,"v":3},{"g":"IGF2","c":66,"v":3},{"g":"IGF2","c":77,"v":2.4},{"g":"IGF2","c":97,"v":2.6},{"g":"IGF2","c":103,"v":3},{"g":"IGF2","c":111,"v":3},{"g":"IGF2","c":118,"v":2.4},{"g":"IGF2","c":126,"v":3},{"g":"IGF2","c":175,"v":0.6},{"g":"IGF2","c":184,"v":2.4},{"g":"IGF2","c":196,"v":0.7},{"g":"IGF2","c":211,"v":0.8},{"g":"IGF2","c":228,"v":3},
{"g":"FBN1","c":3,"v":1},{"g":"FBN1","c":6,"v":0.7},{"g":"FBN1","c":8,"v":1.6},{"g":"FBN1","c":12,"v":3},{"g":"FBN1","c":15,"v":1},{"g":"FBN1","c":20,"v":1.6},{"g":"FBN1","c":25,"v":2.4},{"g":"FBN1","c":29,"v":1},{"g":"FBN1","c":33,"v":0.5},{"g":"FBN1","c":37,"v":1.7},{"g":"FBN1","c":42,"v":1},{"g":"FBN1","c":47,"v":0.7},{"g":"FBN1","c":52,"v":1.6},{"g":"FBN1","c":57,"v":3},{"g":"FBN1","c":62,"v":0.7},{"g":"FBN1","c":68,"v":1},{"g":"FBN1","c":75,"v":0.6},{"g":"FBN1","c":82,"v":0.5},{"g":"FBN1","c":90,"v":0.5},{"g":"FBN1","c":100,"v":0.4},{"g":"FBN1","c":115,"v":0.5},{"g":"FBN1","c":128,"v":0.4},{"g":"FBN1","c":140,"v":0.4},{"g":"FBN1","c":160,"v":0.5},{"g":"FBN1","c":178,"v":0.5},{"g":"FBN1","c":200,"v":0.4},{"g":"FBN1","c":225,"v":0.5},{"g":"FBN1","c":18,"v":0.9},{"g":"FBN1","c":23,"v":0.8},{"g":"FBN1","c":40,"v":0.8},{"g":"FBN1","c":50,"v":0.9},{"g":"FBN1","c":72,"v":0.6},{"g":"FBN1","c":95,"v":0.6},{"g":"FBN1","c":108,"v":0.3},{"g":"FBN1","c":122,"v":0.6},{"g":"FBN1","c":150,"v":0.3},{"g":"FBN1","c":170,"v":0.2},{"g":"FBN1","c":190,"v":0.3},{"g":"FBN1","c":212,"v":0.2},{"g":"FBN1","c":240,"v":0.1},{"g":"FBN1","c":258,"v":-0.2},{"g":"FBN1","c":270,"v":-0.15},{"g":"FBN1","c":282,"v":-0.2},{"g":"FBN1","c":293,"v":-0.2},
{"g":"THBS1","c":3,"v":1.4},{"g":"THBS1","c":6,"v":3},{"g":"THBS1","c":10,"v":1},{"g":"THBS1","c":14,"v":0.7},{"g":"THBS1","c":18,"v":1},{"g":"THBS1","c":22,"v":2.3},{"g":"THBS1","c":26,"v":0.7},{"g":"THBS1","c":30,"v":1},{"g":"THBS1","c":36,"v":1},{"g":"THBS1","c":42,"v":2.5},{"g":"THBS1","c":48,"v":0.8},{"g":"THBS1","c":52,"v":1.1},{"g":"THBS1","c":55,"v":1.4},{"g":"THBS1","c":60,"v":1.6},{"g":"THBS1","c":66,"v":0.7},{"g":"THBS1","c":72,"v":0.5},{"g":"THBS1","c":80,"v":0.5},{"g":"THBS1","c":88,"v":0.5},{"g":"THBS1","c":100,"v":0.5},{"g":"THBS1","c":112,"v":3},{"g":"THBS1","c":125,"v":0.5},{"g":"THBS1","c":140,"v":0.4},{"g":"THBS1","c":165,"v":0.4},{"g":"THBS1","c":190,"v":0.4},{"g":"THBS1","c":12,"v":0.9},{"g":"THBS1","c":33,"v":0.9},{"g":"THBS1","c":39,"v":0.9},{"g":"THBS1","c":57,"v":1.2},{"g":"THBS1","c":76,"v":0.6},{"g":"THBS1","c":94,"v":0.3},{"g":"THBS1","c":118,"v":0.4},{"g":"THBS1","c":132,"v":0.4},{"g":"THBS1","c":152,"v":0.3},{"g":"THBS1","c":178,"v":0.3},{"g":"THBS1","c":205,"v":0.2},{"g":"THBS1","c":225,"v":0.3},{"g":"THBS1","c":248,"v":-0.2},{"g":"THBS1","c":265,"v":-0.15},{"g":"THBS1","c":285,"v":-0.2},
{"g":"HGF","c":2,"v":0.9},{"g":"HGF","c":6,"v":1.2},{"g":"HGF","c":9,"v":1.4},{"g":"HGF","c":12,"v":1.2},{"g":"HGF","c":16,"v":0.9},{"g":"HGF","c":20,"v":1.5},{"g":"HGF","c":24,"v":2},{"g":"HGF","c":28,"v":3},{"g":"HGF","c":33,"v":0.9},{"g":"HGF","c":40,"v":0.7},{"g":"HGF","c":48,"v":0.5},{"g":"HGF","c":55,"v":0.8},{"g":"HGF","c":62,"v":0.5},{"g":"HGF","c":70,"v":0.5},{"g":"HGF","c":78,"v":0.4},{"g":"HGF","c":90,"v":0.4},{"g":"HGF","c":105,"v":0.8},{"g":"HGF","c":130,"v":0.5},{"g":"HGF","c":135,"v":1},{"g":"HGF","c":140,"v":0.5},{"g":"HGF","c":160,"v":0.4},{"g":"HGF","c":200,"v":0.4},{"g":"HGF","c":270,"v":2.4},{"g":"HGF","c":37,"v":0.8},{"g":"HGF","c":44,"v":0.6},{"g":"HGF","c":58,"v":0.6},{"g":"HGF","c":84,"v":0.3},{"g":"HGF","c":98,"v":0.4},{"g":"HGF","c":115,"v":0.3},{"g":"HGF","c":150,"v":0.3},{"g":"HGF","c":175,"v":0.2},{"g":"HGF","c":188,"v":0.2},{"g":"HGF","c":215,"v":0.1},{"g":"HGF","c":232,"v":0.2},{"g":"HGF","c":250,"v":-0.15},{"g":"HGF","c":285,"v":-0.15},
{"g":"VCAN","c":0,"v":1},{"g":"VCAN","c":4,"v":0.9},{"g":"VCAN","c":8,"v":0.7},{"g":"VCAN","c":12,"v":1.2},{"g":"VCAN","c":18,"v":0.7},{"g":"VCAN","c":26,"v":2},{"g":"VCAN","c":32,"v":0.7},{"g":"VCAN","c":38,"v":0.6},{"g":"VCAN","c":46,"v":1.6},{"g":"VCAN","c":48,"v":2.4},{"g":"VCAN","c":50,"v":1.4},{"g":"VCAN","c":55,"v":0.8},{"g":"VCAN","c":60,"v":1.6},{"g":"VCAN","c":65,"v":0.7},{"g":"VCAN","c":72,"v":1.6},{"g":"VCAN","c":80,"v":0.9},{"g":"VCAN","c":92,"v":2},{"g":"VCAN","c":98,"v":0.5},{"g":"VCAN","c":108,"v":0.5},{"g":"VCAN","c":118,"v":0.9},{"g":"VCAN","c":132,"v":3},{"g":"VCAN","c":160,"v":0.5},{"g":"VCAN","c":200,"v":0.8},{"g":"VCAN","c":232,"v":0.9},{"g":"VCAN","c":22,"v":0.6},{"g":"VCAN","c":42,"v":0.5},{"g":"VCAN","c":76,"v":0.6},{"g":"VCAN","c":86,"v":0.6},{"g":"VCAN","c":125,"v":0.5},{"g":"VCAN","c":145,"v":0.4},{"g":"VCAN","c":175,"v":0.3},{"g":"VCAN","c":188,"v":0.3},{"g":"VCAN","c":215,"v":0.3},{"g":"VCAN","c":255,"v":-0.2},{"g":"VCAN","c":272,"v":-0.2},{"g":"VCAN","c":290,"v":-0.2},
{"g":"AGT","c":10,"v":0.5},{"g":"AGT","c":15,"v":0.7},{"g":"AGT","c":25,"v":1},{"g":"AGT","c":30,"v":1.4},{"g":"AGT","c":38,"v":3},{"g":"AGT","c":48,"v":1.6},{"g":"AGT","c":66,"v":0.7},{"g":"AGT","c":68,"v":0.6},{"g":"AGT","c":84,"v":2.4},{"g":"AGT","c":103,"v":0.9},{"g":"AGT","c":105,"v":3},{"g":"AGT","c":130,"v":0.5},{"g":"TF","c":84,"v":3},{"g":"TF","c":99,"v":3},{"g":"TF","c":101,"v":3},{"g":"TF","c":103,"v":3},{"g":"TF","c":141,"v":2.4},{"g":"TF","c":184,"v":2.4},{"g":"TF","c":209,"v":3},{"g":"VTN","c":38,"v":3},{"g":"VTN","c":49,"v":0.6},{"g":"VTN","c":97,"v":1},{"g":"VTN","c":103,"v":3},{"g":"VTN","c":121,"v":0.5},{"g":"VTN","c":142,"v":1.7},
{"g":"FN1","c":1,"v":1.6},{"g":"FN1","c":5,"v":1},{"g":"FN1","c":8,"v":1},{"g":"FN1","c":12,"v":0.9},{"g":"FN1","c":16,"v":0.8},{"g":"FN1","c":20,"v":0.9},{"g":"FN1","c":24,"v":1.1},{"g":"FN1","c":28,"v":0.8},{"g":"FN1","c":32,"v":3},{"g":"FN1","c":36,"v":0.7},{"g":"FN1","c":40,"v":1.4},{"g":"FN1","c":46,"v":0.6},{"g":"FN1","c":52,"v":2.4},{"g":"FN1","c":58,"v":0.8},{"g":"FN1","c":66,"v":0.6},{"g":"FN1","c":75,"v":0.7},{"g":"FN1","c":85,"v":1},{"g":"FN1","c":100,"v":0.5},{"g":"FN1","c":112,"v":0.6},{"g":"FN1","c":125,"v":0.6},{"g":"FN1","c":140,"v":0.8},{"g":"FN1","c":150,"v":2},{"g":"FN1","c":165,"v":0.7},{"g":"FN1","c":178,"v":0.9},{"g":"FN1","c":200,"v":0.7},{"g":"FN1","c":215,"v":0.8},{"g":"FN1","c":238,"v":0.5},{"g":"FN1","c":256,"v":2},{"g":"FN1","c":270,"v":0.5},{"g":"FN1","c":3,"v":0.8},{"g":"FN1","c":10,"v":0.9},{"g":"FN1","c":14,"v":1},{"g":"FN1","c":18,"v":1.1},{"g":"FN1","c":43,"v":0.8},{"g":"FN1","c":62,"v":0.7},{"g":"FN1","c":92,"v":0.4},{"g":"FN1","c":132,"v":0.5},{"g":"FN1","c":158,"v":0.5},{"g":"FN1","c":190,"v":0.5},{"g":"FN1","c":228,"v":0.5},{"g":"FN1","c":248,"v":0.4},
{"g":"TTR","c":18,"v":0.5},{"g":"TTR","c":38,"v":1.6},{"g":"TTR","c":57,"v":1},{"g":"TTR","c":68,"v":0.5},{"g":"TTR","c":77,"v":2.4},{"g":"TTR","c":85,"v":3},{"g":"TTR","c":87,"v":1},{"g":"TTR","c":98,"v":3},{"g":"TTR","c":103,"v":3},{"g":"TTR","c":120,"v":1},{"g":"TTR","c":132,"v":1},{"g":"TTR","c":163,"v":3},{"g":"TTR","c":200,"v":3},{"g":"TTR","c":208,"v":3},{"g":"TTR","c":213,"v":0.5},{"g":"TTR","c":240,"v":1.6},{"g":"TTR","c":248,"v":1},
{"g":"APOB","c":6,"v":0.5},{"g":"APOB","c":30,"v":2.4},{"g":"APOB","c":38,"v":1},{"g":"APOB","c":51,"v":2.4},{"g":"APOB","c":70,"v":1},{"g":"APOB","c":76,"v":1.6},{"g":"APOB","c":84,"v":3},{"g":"APOB","c":98,"v":3},{"g":"APOB","c":102,"v":3},{"g":"APOB","c":104,"v":3},{"g":"APOB","c":119,"v":0.5},{"g":"APOB","c":130,"v":0.5},{"g":"APOB","c":162,"v":1},{"g":"APOB","c":195,"v":3},{"g":"APOB","c":199,"v":1.2},{"g":"APOB","c":221,"v":0.7},
{"g":"POMC","c":1,"v":0.8},{"g":"POMC","c":3,"v":0.8},{"g":"POMC","c":8,"v":0.7},{"g":"POMC","c":10,"v":0.6},{"g":"POMC","c":21,"v":0.5},{"g":"POMC","c":26,"v":0.5},{"g":"POMC","c":59,"v":1.6},{"g":"POMC","c":67,"v":3},{"g":"POMC","c":84,"v":1.7},{"g":"POMC","c":104,"v":1},{"g":"POMC","c":109,"v":3},{"g":"POMC","c":121,"v":1.2},{"g":"POMC","c":142,"v":1},{"g":"POMC","c":210,"v":3},{"g":"POMC","c":243,"v":0.4},{"g":"POMC","c":256,"v":0.5},
{"g":"HP","c":1,"v":3},{"g":"HP","c":43,"v":0.4},{"g":"HP","c":64,"v":1.6},{"g":"HP","c":86,"v":1},{"g":"HP","c":104,"v":3},{"g":"HP","c":124,"v":1.6},{"g":"HP","c":127,"v":3},{"g":"HP","c":140,"v":3},{"g":"HP","c":181,"v":1.2},{"g":"HP","c":185,"v":1},{"g":"HP","c":197,"v":1},{"g":"APOA1","c":84,"v":3},{"g":"APOA1","c":98,"v":1},{"g":"APOA1","c":102,"v":2.8},{"g":"APOA1","c":127,"v":1},{"g":"APOA1","c":185,"v":1},{"g":"APOA1","c":199,"v":1.6},{"g":"APOA1","c":210,"v":0.8},
{"g":"SERPINE1","c":1,"v":0.8},{"g":"SERPINE1","c":10,"v":1},{"g":"SERPINE1","c":17,"v":1},{"g":"SERPINE1","c":20,"v":0.8},{"g":"SERPINE1","c":24,"v":1},{"g":"SERPINE1","c":28,"v":0.9},{"g":"SERPINE1","c":32,"v":1},{"g":"SERPINE1","c":42,"v":1.7},{"g":"SERPINE1","c":49,"v":0.7},{"g":"SERPINE1","c":58,"v":0.6},{"g":"SERPINE1","c":113,"v":0.6},{"g":"SERPINE1","c":131,"v":3},{"g":"SERPINE1","c":137,"v":1},{"g":"SERPINE1","c":147,"v":2.8},{"g":"SERPINE1","c":162,"v":2},{"g":"SERPINE1","c":171,"v":2.4},{"g":"SERPINE1","c":184,"v":3},{"g":"SERPINE1","c":200,"v":0.6},{"g":"SERPINE1","c":202,"v":3},{"g":"SERPINE1","c":250,"v":1.6},{"g":"SERPINE1","c":272,"v":1},{"g":"SERPINE1","c":5,"v":0.7},{"g":"SERPINE1","c":37,"v":0.7},{"g":"SERPINE1","c":66,"v":0.6},{"g":"SERPINE1","c":75,"v":0.5},{"g":"SERPINE1","c":95,"v":0.4},{"g":"SERPINE1","c":120,"v":0.5},{"g":"SERPINE1","c":155,"v":0.4},{"g":"SERPINE1","c":218,"v":0.3},{"g":"SERPINE1","c":235,"v":0.3},
{"g":"F2","c":19,"v":1},{"g":"F2","c":66,"v":0.6},{"g":"F2","c":77,"v":2.4},{"g":"F2","c":85,"v":3},{"g":"F2","c":97,"v":2},{"g":"F2","c":101,"v":3},{"g":"F2","c":104,"v":3},{"g":"F2","c":123,"v":3},{"g":"F2","c":185,"v":2.4},{"g":"F2","c":199,"v":3},{"g":"F2","c":208,"v":1},{"g":"F2","c":210,"v":3},{"g":"F2","c":228,"v":1.8},{"g":"CRP","c":71,"v":3},{"g":"CRP","c":192,"v":3},{"g":"CRP","c":288,"v":0.9},
{"g":"CP","c":14,"v":0.6},{"g":"CP","c":32,"v":3},{"g":"CP","c":38,"v":1},{"g":"CP","c":57,"v":3},{"g":"CP","c":65,"v":1.6},{"g":"CP","c":103,"v":0.9},{"g":"CP","c":108,"v":1.6},{"g":"CP","c":123,"v":3},{"g":"CP","c":132,"v":2.4},{"g":"CP","c":140,"v":2.4},{"g":"CP","c":154,"v":1},{"g":"CP","c":179,"v":1.6},{"g":"CP","c":194,"v":2.4},{"g":"CP","c":207,"v":3},{"g":"CP","c":214,"v":2.6},{"g":"CP","c":223,"v":3},{"g":"CP","c":232,"v":1},{"g":"CP","c":239,"v":1.6},{"g":"CP","c":242,"v":1},{"g":"CP","c":286,"v":1.6},{"g":"CP","c":293,"v":3},
{"g":"ITIH2","c":38,"v":3},{"g":"ITIH2","c":84,"v":0.5},{"g":"ITIH2","c":103,"v":3},{"g":"ITIH2","c":123,"v":2.4},{"g":"ITIH2","c":223,"v":2.2},{"g":"ITIH2","c":240,"v":1.2},{"g":"SERPINC1","c":104,"v":3},{"g":"SERPINC1","c":123,"v":0.4},{"g":"SERPINC1","c":185,"v":1},{"g":"AHSG","c":77,"v":0.5},{"g":"AHSG","c":102,"v":2.6},{"g":"AHSG","c":104,"v":3},{"g":"AHSG","c":123,"v":0.5},{"g":"AHSG","c":185,"v":1}],
"b1base":[{"g":"SERPINA1","c":0,"c2":300,"v":-0.35},{"g":"TTR","c":0,"c2":300,"v":-0.15},{"g":"APOA2","c":0,"c2":300,"v":0},{"g":"APOA1","c":0,"c2":300,"v":-0.03},{"g":"AFP","c":0,"c2":300,"v":0},{"g":"SERPINC1","c":0,"c2":300,"v":0},{"g":"FGG","c":0,"c2":300,"v":-0.02},{"g":"KNG1","c":0,"c2":300,"v":-0.15},{"g":"AHSG","c":0,"c2":300,"v":0},{"g":"F2","c":0,"c2":300,"v":-0.15},{"g":"ERBB2","c":0,"c2":300,"v":-0.25}],
"b1":[{"g":"SERPINA1","c":9,"v":2.8},{"g":"SERPINA1","c":19,"v":1.6},{"g":"SERPINA1","c":39,"v":1},{"g":"SERPINA1","c":51,"v":0.9},{"g":"SERPINA1","c":68,"v":1},{"g":"SERPINA1","c":98,"v":1},{"g":"SERPINA1","c":124,"v":0.6},{"g":"SERPINA1","c":181,"v":3},{"g":"SERPINA1","c":193,"v":2},{"g":"SERPINA1","c":203,"v":1},{"g":"SERPINA1","c":213,"v":1.6},{"g":"SERPINA1","c":238,"v":3},{"g":"SERPINA1","c":270,"v":3},{"g":"SERPINA1","c":291,"v":0.8},{"g":"SERPINA1","c":30,"v":0.8},{"g":"SERPINA1","c":60,"v":0.8},{"g":"SERPINA1","c":85,"v":0.8},{"g":"SERPINA1","c":110,"v":0.7},{"g":"SERPINA1","c":150,"v":0.6},{"g":"SERPINA1","c":226,"v":0.8},{"g":"SERPINA1","c":250,"v":0.7},
{"g":"TTR","c":8,"v":1},{"g":"TTR","c":42,"v":0.9},{"g":"TTR","c":54,"v":0.7},{"g":"TTR","c":91,"v":3},{"g":"TTR","c":124,"v":3},{"g":"TTR","c":134,"v":2.6},{"g":"TTR","c":192,"v":0.9},{"g":"TTR","c":210,"v":2.6},{"g":"TTR","c":216,"v":1},{"g":"TTR","c":256,"v":0.5},{"g":"TTR","c":265,"v":1.6},{"g":"TTR","c":270,"v":1.4},{"g":"TTR","c":274,"v":1.6},{"g":"TTR","c":298,"v":3},
{"g":"APOA2","c":124,"v":0.4},{"g":"APOA2","c":158,"v":2.9},{"g":"APOA2","c":215,"v":0.5},{"g":"APOA1","c":38,"v":1},{"g":"APOA1","c":95,"v":0.6},{"g":"APOA1","c":124,"v":0.6},{"g":"APOA1","c":135,"v":0.6},{"g":"APOA1","c":146,"v":1},{"g":"APOA1","c":158,"v":2.6},{"g":"APOA1","c":203,"v":0.6},{"g":"APOA1","c":211,"v":1},{"g":"APOA1","c":216,"v":0.6},{"g":"APOA1","c":241,"v":1},{"g":"APOA1","c":298,"v":3},{"g":"AFP","c":134,"v":0.9},{"g":"SERPINC1","c":103,"v":0.5},{"g":"SERPINC1","c":210,"v":0.6},{"g":"SERPINC1","c":216,"v":0.6},{"g":"SERPINC1","c":241,"v":0.9},{"g":"SERPINC1","c":297,"v":2.4},
{"g":"FGG","c":91,"v":1},{"g":"FGG","c":129,"v":1},{"g":"FGG","c":135,"v":0.6},{"g":"FGG","c":210,"v":3},{"g":"FGG","c":216,"v":0.9},{"g":"FGG","c":250,"v":1.5},{"g":"FGG","c":264,"v":2.4},{"g":"FGG","c":270,"v":1.7},
{"g":"KNG1","c":11,"v":0.6},{"g":"KNG1","c":48,"v":0.5},{"g":"KNG1","c":87,"v":1},{"g":"KNG1","c":91,"v":1},{"g":"KNG1","c":103,"v":0.6},{"g":"KNG1","c":135,"v":3},{"g":"KNG1","c":203,"v":1},{"g":"KNG1","c":210,"v":1},{"g":"KNG1","c":216,"v":2.6},{"g":"KNG1","c":222,"v":0.6},{"g":"KNG1","c":235,"v":0.8},{"g":"KNG1","c":241,"v":3},{"g":"KNG1","c":264,"v":1},{"g":"KNG1","c":267,"v":3},{"g":"KNG1","c":297,"v":3},
{"g":"AHSG","c":134,"v":0.5},{"g":"AHSG","c":158,"v":2.4},{"g":"AHSG","c":162,"v":2},{"g":"AHSG","c":216,"v":0.6},{"g":"AHSG","c":241,"v":1},{"g":"AHSG","c":274,"v":0.5},
{"g":"F2","c":124,"v":1},{"g":"F2","c":129,"v":1.7},{"g":"F2","c":135,"v":3},{"g":"F2","c":158,"v":2.5},{"g":"F2","c":162,"v":3},{"g":"F2","c":210,"v":3},{"g":"F2","c":216,"v":2.8},{"g":"F2","c":229,"v":0.8},{"g":"F2","c":241,"v":2.4},{"g":"F2","c":264,"v":1.7},{"g":"F2","c":267,"v":1},{"g":"F2","c":274,"v":1.7},{"g":"F2","c":299,"v":3},
{"g":"ERBB2","c":61,"v":1},{"g":"ERBB2","c":94,"v":2.4},{"g":"ERBB2","c":98,"v":2},{"g":"ERBB2","c":147,"v":3},{"g":"ERBB2","c":176,"v":3},{"g":"ERBB2","c":203,"v":0.6},{"g":"ERBB2","c":217,"v":3},{"g":"ERBB2","c":225,"v":0.9},{"g":"ERBB2","c":239,"v":3},{"g":"ERBB2","c":259,"v":1.7},{"g":"ERBB2","c":267,"v":3},{"g":"ERBB2","c":272,"v":3},{"g":"ERBB2","c":274,"v":3},{"g":"ERBB2","c":284,"v":3},{"g":"ERBB2","c":285,"v":3}],
"b2base":[{"g":"FBN1","c":0,"c2":300,"v":-0.35},{"g":"FBN1","c":250,"c2":300,"v":-0.55},{"g":"THBS1","c":0,"c2":300,"v":-0.35},{"g":"THBS1","c":250,"c2":300,"v":-0.5},{"g":"HGF","c":0,"c2":300,"v":-0.35},{"g":"HGF","c":250,"c2":300,"v":-0.45},{"g":"VCAN","c":0,"c2":300,"v":-0.3},{"g":"VCAN","c":232,"c2":300,"v":-0.55},{"g":"POMC","c":0,"c2":300,"v":-0.05},{"g":"FN1","c":0,"c2":300,"v":-0.3},{"g":"FN1","c":260,"c2":300,"v":-0.55},{"g":"MMP9","c":0,"c2":300,"v":-0.35},{"g":"MMP9","c":260,"c2":300,"v":-0.45},{"g":"SERPINE1","c":0,"c2":300,"v":-0.1},{"g":"SERPINE1","c":280,"c2":300,"v":-0.35},{"g":"CP","c":0,"c2":300,"v":-0.38},{"g":"IGF2","c":0,"c2":300,"v":-0.2},{"g":"HP","c":0,"c2":300,"v":-0.03},{"g":"AGT","c":0,"c2":300,"v":-0.1},{"g":"VTN","c":0,"c2":300,"v":0},{"g":"SPP1","c":0,"c2":300,"v":-0.25},{"g":"APOB","c":0,"c2":300,"v":-0.1},{"g":"TF","c":0,"c2":300,"v":-0.03},{"g":"IL1B","c":0,"c2":300,"v":-0.4},{"g":"ITIH2","c":0,"c2":300,"v":0},{"g":"CRP","c":0,"c2":300,"v":0}],
"b2":[{"g":"FBN1","c":1,"v":3},{"g":"FBN1","c":4,"v":2.4},{"g":"FBN1","c":8,"v":1.6},{"g":"FBN1","c":10,"v":1.2},{"g":"FBN1","c":12,"v":1.6},{"g":"FBN1","c":16,"v":2.6},{"g":"FBN1","c":22,"v":0.7},{"g":"FBN1","c":28,"v":3},{"g":"FBN1","c":33,"v":0.9},{"g":"FBN1","c":37,"v":1.1},{"g":"FBN1","c":40,"v":2.4},{"g":"FBN1","c":45,"v":1.4},{"g":"FBN1","c":50,"v":0.8},{"g":"FBN1","c":56,"v":0.9},{"g":"FBN1","c":65,"v":0.6},{"g":"FBN1","c":72,"v":0.7},{"g":"FBN1","c":78,"v":0.7},{"g":"FBN1","c":85,"v":2.6},{"g":"FBN1","c":95,"v":0.7},{"g":"FBN1","c":105,"v":0.5},{"g":"FBN1","c":118,"v":0.8},{"g":"FBN1","c":130,"v":0.6},{"g":"FBN1","c":145,"v":0.7},{"g":"FBN1","c":170,"v":0.5},{"g":"FBN1","c":200,"v":0.5},{"g":"FBN1","c":225,"v":0.4},{"g":"FBN1","c":25,"v":0.8},{"g":"FBN1","c":60,"v":0.7},{"g":"FBN1","c":90,"v":0.5},{"g":"FBN1","c":110,"v":0.4},{"g":"FBN1","c":138,"v":0.5},{"g":"FBN1","c":155,"v":0.4},{"g":"FBN1","c":185,"v":0.3},{"g":"FBN1","c":212,"v":0.2},{"g":"FBN1","c":240,"v":0.1},{"g":"FBN1","c":255,"v":-0.2},{"g":"FBN1","c":275,"v":-0.25},
{"g":"THBS1","c":2,"v":2.4},{"g":"THBS1","c":6,"v":1.2},{"g":"THBS1","c":10,"v":1.4},{"g":"THBS1","c":13,"v":1.2},{"g":"THBS1","c":18,"v":0.7},{"g":"THBS1","c":22,"v":2.8},{"g":"THBS1","c":28,"v":0.8},{"g":"THBS1","c":33,"v":1.1},{"g":"THBS1","c":40,"v":1.5},{"g":"THBS1","c":42,"v":1.5},{"g":"THBS1","c":46,"v":1.4},{"g":"THBS1","c":50,"v":1},{"g":"THBS1","c":55,"v":0.6},{"g":"THBS1","c":62,"v":0.8},{"g":"THBS1","c":70,"v":2.5},{"g":"THBS1","c":76,"v":3},{"g":"THBS1","c":82,"v":0.6},{"g":"THBS1","c":98,"v":2.4},{"g":"THBS1","c":108,"v":0.7},{"g":"THBS1","c":120,"v":3},{"g":"THBS1","c":135,"v":0.5},{"g":"THBS1","c":145,"v":0.5},{"g":"THBS1","c":155,"v":1},{"g":"THBS1","c":165,"v":0.5},{"g":"THBS1","c":175,"v":3},{"g":"THBS1","c":200,"v":0.5},{"g":"THBS1","c":240,"v":0.4},{"g":"THBS1","c":15,"v":0.9},{"g":"THBS1","c":25,"v":0.8},{"g":"THBS1","c":88,"v":0.6},{"g":"THBS1","c":112,"v":0.4},{"g":"THBS1","c":128,"v":0.4},{"g":"THBS1","c":185,"v":0.3},{"g":"THBS1","c":215,"v":0.3},{"g":"THBS1","c":260,"v":-0.2},{"g":"THBS1","c":280,"v":-0.2},
{"g":"HGF","c":2,"v":3},{"g":"HGF","c":5,"v":2.8},{"g":"HGF","c":10,"v":1.3},{"g":"HGF","c":14,"v":1},{"g":"HGF","c":18,"v":0.9},{"g":"HGF","c":22,"v":0.6},{"g":"HGF","c":26,"v":3},{"g":"HGF","c":32,"v":0.7},{"g":"HGF","c":38,"v":1},{"g":"HGF","c":42,"v":0.9},{"g":"HGF","c":48,"v":0.8},{"g":"HGF","c":54,"v":0.7},{"g":"HGF","c":60,"v":0.9},{"g":"HGF","c":66,"v":0.9},{"g":"HGF","c":72,"v":1},{"g":"HGF","c":110,"v":0.5},{"g":"HGF","c":170,"v":2.8},{"g":"HGF","c":220,"v":0.5},{"g":"HGF","c":35,"v":0.8},{"g":"HGF","c":45,"v":0.8},{"g":"HGF","c":57,"v":0.8},{"g":"HGF","c":63,"v":0.8},{"g":"HGF","c":69,"v":0.9},{"g":"HGF","c":85,"v":0.3},{"g":"HGF","c":95,"v":0.3},{"g":"HGF","c":130,"v":0.3},{"g":"HGF","c":150,"v":0.2},{"g":"HGF","c":195,"v":0.2},{"g":"HGF","c":240,"v":0.1},{"g":"HGF","c":265,"v":-0.15},
{"g":"VCAN","c":1,"v":1},{"g":"VCAN","c":4,"v":1.5},{"g":"VCAN","c":8,"v":2},{"g":"VCAN","c":12,"v":0.7},{"g":"VCAN","c":16,"v":2.2},{"g":"VCAN","c":22,"v":0.7},{"g":"VCAN","c":28,"v":0.9},{"g":"VCAN","c":34,"v":1.5},{"g":"VCAN","c":38,"v":0.8},{"g":"VCAN","c":44,"v":2.6},{"g":"VCAN","c":50,"v":1},{"g":"VCAN","c":62,"v":2.2},{"g":"VCAN","c":66,"v":0.9},{"g":"VCAN","c":75,"v":0.6},{"g":"VCAN","c":90,"v":0.5},{"g":"VCAN","c":105,"v":0.6},{"g":"VCAN","c":125,"v":0.6},{"g":"VCAN","c":145,"v":3},{"g":"VCAN","c":160,"v":1},{"g":"VCAN","c":180,"v":0.6},{"g":"VCAN","c":195,"v":0.8},{"g":"VCAN","c":200,"v":0.8},{"g":"VCAN","c":210,"v":0.8},{"g":"VCAN","c":230,"v":0.5},{"g":"VCAN","c":56,"v":0.8},{"g":"VCAN","c":82,"v":0.5},{"g":"VCAN","c":98,"v":0.5},{"g":"VCAN","c":115,"v":0.5},{"g":"VCAN","c":135,"v":0.4},{"g":"VCAN","c":170,"v":0.5},{"g":"VCAN","c":245,"v":-0.15},{"g":"VCAN","c":265,"v":-0.2},
{"g":"POMC","c":10,"v":0.5},{"g":"POMC","c":18,"v":0.5},{"g":"POMC","c":30,"v":0.4},{"g":"POMC","c":45,"v":0.3},{"g":"POMC","c":97,"v":1.7},{"g":"POMC","c":175,"v":3},{"g":"POMC","c":203,"v":2.8},{"g":"POMC","c":215,"v":3},{"g":"POMC","c":225,"v":1.5},{"g":"POMC","c":250,"v":1},{"g":"POMC","c":292,"v":1},
{"g":"FN1","c":2,"v":0.9},{"g":"FN1","c":5,"v":3},{"g":"FN1","c":10,"v":0.8},{"g":"FN1","c":15,"v":2.6},{"g":"FN1","c":22,"v":0.7},{"g":"FN1","c":30,"v":1.1},{"g":"FN1","c":36,"v":1},{"g":"FN1","c":40,"v":1.5},{"g":"FN1","c":44,"v":0.9},{"g":"FN1","c":48,"v":0.9},{"g":"FN1","c":54,"v":0.7},{"g":"FN1","c":60,"v":0.7},{"g":"FN1","c":66,"v":0.7},{"g":"FN1","c":64,"v":1.5},{"g":"FN1","c":67,"v":1.5},{"g":"FN1","c":70,"v":1.5},{"g":"FN1","c":75,"v":1.5},{"g":"FN1","c":80,"v":0.8},{"g":"FN1","c":90,"v":0.5},{"g":"FN1","c":110,"v":0.8},{"g":"FN1","c":125,"v":0.8},{"g":"FN1","c":130,"v":0.8},{"g":"FN1","c":150,"v":0.6},{"g":"FN1","c":170,"v":0.6},{"g":"FN1","c":190,"v":0.5},{"g":"FN1","c":200,"v":0.6},{"g":"FN1","c":215,"v":0.6},{"g":"FN1","c":26,"v":0.7},{"g":"FN1","c":98,"v":0.4},{"g":"FN1","c":140,"v":0.4},{"g":"FN1","c":160,"v":0.3},{"g":"FN1","c":230,"v":0.2},{"g":"FN1","c":245,"v":0.1},
{"g":"MMP9","c":1,"v":3},{"g":"MMP9","c":5,"v":0.9},{"g":"MMP9","c":10,"v":0.7},{"g":"MMP9","c":14,"v":3},{"g":"MMP9","c":18,"v":0.8},{"g":"MMP9","c":24,"v":1.6},{"g":"MMP9","c":30,"v":0.9},{"g":"MMP9","c":36,"v":3},{"g":"MMP9","c":44,"v":0.7},{"g":"MMP9","c":52,"v":0.6},{"g":"MMP9","c":60,"v":3},{"g":"MMP9","c":66,"v":2},{"g":"MMP9","c":78,"v":0.5},{"g":"MMP9","c":85,"v":0.8},{"g":"MMP9","c":100,"v":0.7},{"g":"MMP9","c":112,"v":3},{"g":"MMP9","c":114,"v":2.8},{"g":"MMP9","c":120,"v":0.7},{"g":"MMP9","c":135,"v":0.5},{"g":"MMP9","c":150,"v":0.9},{"g":"MMP9","c":165,"v":0.5},{"g":"MMP9","c":190,"v":2.4},{"g":"MMP9","c":210,"v":0.5},{"g":"MMP9","c":225,"v":0.8},{"g":"MMP9","c":240,"v":3},{"g":"MMP9","c":248,"v":1},{"g":"MMP9","c":285,"v":2.4},{"g":"MMP9","c":40,"v":0.6},{"g":"MMP9","c":92,"v":0.6},{"g":"MMP9","c":106,"v":0.7},{"g":"MMP9","c":128,"v":0.6},{"g":"MMP9","c":175,"v":0.5},{"g":"MMP9","c":200,"v":0.5},{"g":"MMP9","c":270,"v":-0.15},
{"g":"SERPINE1","c":4,"v":0.8},{"g":"SERPINE1","c":7,"v":0.8},{"g":"SERPINE1","c":15,"v":3},{"g":"SERPINE1","c":20,"v":0.7},{"g":"SERPINE1","c":33,"v":0.8},{"g":"SERPINE1","c":38,"v":1},{"g":"SERPINE1","c":57,"v":0.8},{"g":"SERPINE1","c":73,"v":1},{"g":"SERPINE1","c":83,"v":3},{"g":"SERPINE1","c":114,"v":1.6},{"g":"SERPINE1","c":163,"v":2.8},{"g":"SERPINE1","c":168,"v":1.7},{"g":"SERPINE1","c":171,"v":1},{"g":"SERPINE1","c":203,"v":0.7},{"g":"SERPINE1","c":231,"v":2.4},{"g":"SERPINE1","c":246,"v":0.6},{"g":"SERPINE1","c":264,"v":3},{"g":"SERPINE1","c":12,"v":0.6},{"g":"SERPINE1","c":26,"v":0.6},{"g":"SERPINE1","c":45,"v":0.6},{"g":"SERPINE1","c":65,"v":0.6},{"g":"SERPINE1","c":95,"v":0.5},{"g":"SERPINE1","c":130,"v":0.5},{"g":"SERPINE1","c":180,"v":0.5},
{"g":"CP","c":8,"v":3},{"g":"CP","c":20,"v":1.6},{"g":"CP","c":29,"v":1},{"g":"CP","c":38,"v":1},{"g":"CP","c":56,"v":0.9},{"g":"CP","c":95,"v":0.9},{"g":"CP","c":109,"v":1},{"g":"CP","c":117,"v":2.8},{"g":"CP","c":125,"v":3},{"g":"CP","c":140,"v":1.6},{"g":"CP","c":157,"v":2.4},{"g":"CP","c":162,"v":3},{"g":"CP","c":176,"v":3},{"g":"CP","c":181,"v":2.4},{"g":"CP","c":184,"v":3},{"g":"CP","c":208,"v":1.7},{"g":"CP","c":217,"v":1.6},{"g":"CP","c":230,"v":1.5},{"g":"CP","c":241,"v":0.9},{"g":"CP","c":244,"v":2},{"g":"CP","c":271,"v":1},{"g":"CP","c":279,"v":3},{"g":"CP","c":293,"v":3},
{"g":"IGF2","c":9,"v":0.8},{"g":"IGF2","c":71,"v":1},{"g":"IGF2","c":129,"v":2.4},{"g":"IGF2","c":134,"v":2.2},{"g":"IGF2","c":150,"v":3},{"g":"IGF2","c":197,"v":2.4},{"g":"IGF2","c":202,"v":3},{"g":"IGF2","c":213,"v":1},{"g":"IGF2","c":216,"v":3},{"g":"IGF2","c":227,"v":3},{"g":"IGF2","c":232,"v":3},{"g":"IGF2","c":242,"v":2.4},{"g":"IGF2","c":256,"v":3},{"g":"IGF2","c":263,"v":3},{"g":"IGF2","c":271,"v":1},{"g":"IGF2","c":273,"v":2.4},{"g":"IGF2","c":278,"v":3},{"g":"IGF2","c":294,"v":3},{"g":"IGF2","c":297,"v":0.9},
{"g":"HP","c":5,"v":1},{"g":"HP","c":15,"v":0.7},{"g":"HP","c":50,"v":1.5},{"g":"HP","c":82,"v":3},{"g":"HP","c":87,"v":0.5},{"g":"HP","c":146,"v":3},{"g":"HP","c":157,"v":3},{"g":"HP","c":167,"v":1},{"g":"HP","c":177,"v":0.8},{"g":"HP","c":185,"v":1.4},{"g":"HP","c":242,"v":1},{"g":"HP","c":252,"v":1.5},{"g":"HP","c":294,"v":2.9},
{"g":"AGT","c":1,"v":1},{"g":"AGT","c":2,"v":1},{"g":"AGT","c":5,"v":1.6},{"g":"AGT","c":17,"v":0.6},{"g":"AGT","c":34,"v":0.6},{"g":"AGT","c":44,"v":0.7},{"g":"AGT","c":53,"v":3},{"g":"AGT","c":92,"v":0.6},{"g":"AGT","c":134,"v":1.7},{"g":"AGT","c":202,"v":0.7},{"g":"AGT","c":215,"v":0.7},{"g":"AGT","c":242,"v":0.8},{"g":"AGT","c":271,"v":3},{"g":"AGT","c":273,"v":2.2},{"g":"AGT","c":294,"v":2.6},
{"g":"VTN","c":53,"v":0.9},{"g":"VTN","c":134,"v":1},{"g":"VTN","c":158,"v":1},{"g":"VTN","c":206,"v":1.2},{"g":"VTN","c":271,"v":3},{"g":"VTN","c":294,"v":3},
{"g":"SPP1","c":1,"v":1},{"g":"SPP1","c":8,"v":1.1},{"g":"SPP1","c":41,"v":3},{"g":"SPP1","c":50,"v":1},{"g":"SPP1","c":53,"v":1.5},{"g":"SPP1","c":62,"v":1},{"g":"SPP1","c":65,"v":3},{"g":"SPP1","c":78,"v":0.9},{"g":"SPP1","c":81,"v":1.6},{"g":"SPP1","c":91,"v":2.4},{"g":"SPP1","c":110,"v":2},{"g":"SPP1","c":117,"v":1},{"g":"SPP1","c":126,"v":3},{"g":"SPP1","c":127,"v":3},{"g":"SPP1","c":147,"v":3},{"g":"SPP1","c":156,"v":0.8},{"g":"SPP1","c":171,"v":0.7},{"g":"SPP1","c":182,"v":0.9},{"g":"SPP1","c":230,"v":1},{"g":"SPP1","c":233,"v":0.9},{"g":"SPP1","c":253,"v":1},
{"g":"APOB","c":81,"v":3},{"g":"APOB","c":91,"v":0.8},{"g":"APOB","c":108,"v":2},{"g":"APOB","c":124,"v":0.6},{"g":"APOB","c":130,"v":1},{"g":"APOB","c":135,"v":3},{"g":"APOB","c":150,"v":2.4},{"g":"APOB","c":158,"v":3},{"g":"APOB","c":165,"v":0.6},{"g":"APOB","c":201,"v":1.8},{"g":"APOB","c":209,"v":1},{"g":"APOB","c":215,"v":0.6},{"g":"APOB","c":294,"v":3},{"g":"APOB","c":299,"v":3},
{"g":"TF","c":87,"v":0.8},{"g":"TF","c":158,"v":3},{"g":"TF","c":215,"v":3},{"g":"TF","c":242,"v":2.4},{"g":"TF","c":255,"v":3},{"g":"TF","c":294,"v":3},{"g":"TF","c":299,"v":3},
{"g":"IL1B","c":2,"v":3},{"g":"IL1B","c":7,"v":3},{"g":"IL1B","c":22,"v":1},{"g":"IL1B","c":45,"v":3},{"g":"IL1B","c":50,"v":3},{"g":"IL1B","c":59,"v":3},{"g":"IL1B","c":69,"v":1},{"g":"IL1B","c":78,"v":3},{"g":"IL1B","c":95,"v":2},{"g":"IL1B","c":109,"v":2.4},{"g":"IL1B","c":114,"v":2.4},{"g":"IL1B","c":125,"v":2},{"g":"IL1B","c":162,"v":2.4},{"g":"IL1B","c":168,"v":0.9},{"g":"IL1B","c":181,"v":1},{"g":"IL1B","c":185,"v":3},{"g":"IL1B","c":193,"v":1},{"g":"IL1B","c":205,"v":3},{"g":"IL1B","c":214,"v":2.4},{"g":"IL1B","c":221,"v":1.5},{"g":"IL1B","c":242,"v":3},{"g":"IL1B","c":258,"v":1.7},{"g":"IL1B","c":275,"v":0.7},{"g":"IL1B","c":287,"v":3},
{"g":"ITIH2","c":18,"v":0.8},{"g":"ITIH2","c":146,"v":0.7},{"g":"ITIH2","c":158,"v":1.2},{"g":"ITIH2","c":162,"v":2.4},{"g":"ITIH2","c":208,"v":0.8},{"g":"ITIH2","c":215,"v":0.7},{"g":"ITIH2","c":266,"v":1},{"g":"ITIH2","c":271,"v":3},{"g":"ITIH2","c":293,"v":2},{"g":"ITIH2","c":294,"v":3},{"g":"CRP","c":41,"v":3},{"g":"CRP","c":126,"v":0.9},{"g":"CRP","c":147,"v":3}],
"ssA":[{"c":0,"c2":300,"k":"MSS"},{"c":41,"c2":51,"k":"NA"},{"c":277,"c2":287,"k":"NA"},{"c":206,"c2":212,"k":"NA"}],
"ssAt":[{"c":3,"k":"NA"},{"c":8,"k":"NA"},{"c":11,"k":"NA"},{"c":15,"k":"NA"},{"c":19,"k":"NA"},{"c":24,"k":"NA"},{"c":28,"k":"NA"},{"c":33,"k":"NA"},{"c":37,"k":"NA"},{"c":55,"k":"NA"},{"c":59,"k":"NA"},{"c":64,"k":"NA"},{"c":68,"k":"NA"},{"c":73,"k":"NA"},{"c":78,"k":"NA"},{"c":82,"k":"NA"},{"c":86,"k":"NA"},{"c":91,"k":"NA"},{"c":96,"k":"NA"},{"c":100,"k":"NA"},{"c":119,"k":"NA"},{"c":124,"k":"NA"},{"c":128,"k":"NA"},{"c":133,"k":"NA"},{"c":138,"k":"NA"},{"c":142,"k":"NA"},{"c":149,"k":"NA"},{"c":156,"k":"NA"},{"c":161,"k":"NA"},{"c":166,"k":"NA"},{"c":182,"k":"NA"},{"c":188,"k":"NA"},{"c":195,"k":"NA"},{"c":219,"k":"NA"},{"c":225,"k":"NA"},{"c":231,"k":"NA"},{"c":238,"k":"NA"},{"c":245,"k":"NA"},{"c":252,"k":"NA"},{"c":272,"k":"NA"},{"c":291,"k":"NA"},{"c":146,"k":"MSI"},{"c":154,"k":"MSI"},{"c":190,"k":"MSI"},{"c":243,"k":"MSI"},{"c":261,"k":"MSI"},{"c":268,"k":"MSI"},{"c":288,"k":"MSI"},{"c":293,"k":"MSI"},{"c":296,"k":"MSI"}],
"ssB":[{"c":0,"c2":300,"k":"MSS"},{"c":125,"c2":131,"k":"NA"},{"c":205,"c2":210,"k":"NA"},{"c":92,"c2":96,"k":"NA"}],
"ssBt":[{"c":2,"k":"NA"},{"c":5,"k":"NA"},{"c":8,"k":"NA"},{"c":11,"k":"NA"},{"c":14,"k":"NA"},{"c":18,"k":"NA"},{"c":21,"k":"NA"},{"c":26,"k":"NA"},{"c":30,"k":"NA"},{"c":36,"k":"NA"},{"c":41,"k":"NA"},{"c":46,"k":"NA"},{"c":50,"k":"NA"},{"c":56,"k":"NA"},{"c":61,"k":"NA"},{"c":67,"k":"NA"},{"c":72,"k":"NA"},{"c":76,"k":"NA"},{"c":80,"k":"NA"},{"c":85,"k":"NA"},{"c":99,"k":"NA"},{"c":104,"k":"NA"},{"c":110,"k":"NA"},{"c":115,"k":"NA"},{"c":120,"k":"NA"},{"c":136,"k":"NA"},{"c":146,"k":"NA"},{"c":152,"k":"NA"},{"c":158,"k":"NA"},{"c":165,"k":"NA"},{"c":183,"k":"NA"},{"c":196,"k":"NA"},{"c":214,"k":"NA"},{"c":222,"k":"NA"},{"c":235,"k":"NA"},{"c":243,"k":"NA"},{"c":256,"k":"NA"},{"c":268,"k":"NA"},{"c":281,"k":"NA"},{"c":294,"k":"NA"},{"c":32,"k":"MSI"},{"c":64,"k":"MSI"},{"c":90,"k":"MSI"},{"c":117,"k":"MSI"},{"c":169,"k":"MSI"},{"c":176,"k":"MSI"},{"c":200,"k":"MSI"},{"c":229,"k":"MSI"},{"c":250,"k":"MSI"},{"c":289,"k":"MSI"},{"c":298,"k":"MSI"}],
"stA":[{"c":3,"k":"stage2"},{"c":6,"k":"stage1"},{"c":10,"k":"stage2"},{"c":13,"k":"stage4"},{"c":17,"k":"stage1"},{"c":21,"k":"stage2"},{"c":24,"k":"NA"},{"c":27,"k":"stage2"},{"c":31,"k":"stage2"},{"c":35,"k":"stage1"},{"c":39,"k":"stage2"},{"c":44,"k":"stage2"},{"c":48,"k":"stage2"},{"c":52,"k":"stage4"},{"c":56,"k":"stage4"},{"c":60,"k":"stage2"},{"c":66,"k":"stage2"},{"c":72,"k":"stage1"},{"c":79,"k":"stage2"},{"c":85,"k":"stage2"},{"c":92,"k":"stage4"},{"c":98,"k":"stage1"},{"c":104,"k":"stage2"},{"c":109,"k":"stage2"},{"c":114,"k":"stage4"},{"c":120,"k":"stage2"},{"c":126,"k":"stage1"},{"c":132,"k":"stage2"},{"c":138,"k":"stage2"},{"c":144,"k":"stage4"},{"c":150,"k":"stage2"},{"c":157,"k":"stage2"},{"c":163,"k":"stage1"},{"c":170,"k":"stage2"},{"c":176,"k":"stage4"},{"c":183,"k":"stage2"},{"c":190,"k":"stage2"},{"c":197,"k":"stage1"},{"c":204,"k":"stage2"},{"c":212,"k":"stage4"},{"c":219,"k":"stage2"},{"c":226,"k":"stage2"},{"c":233,"k":"stage1"},{"c":241,"k":"stage2"},{"c":248,"k":"NA"},{"c":255,"k":"stage2"},{"c":262,"k":"stage2"},{"c":268,"k":"stage1"},{"c":274,"k":"stage2"},{"c":278,"k":"stage1"},{"c":283,"k":"stage2"},{"c":288,"k":"stage1"},{"c":292,"k":"stage4"},{"c":297,"k":"stage2"}],
"stB":[{"c":2,"k":"stage1"},{"c":5,"k":"stage2"},{"c":8,"k":"stage4"},{"c":11,"k":"stage1"},{"c":14,"k":"stage2"},{"c":17,"k":"stage2"},{"c":20,"k":"NA"},{"c":24,"k":"stage1"},{"c":27,"k":"stage2"},{"c":30,"k":"stage2"},{"c":34,"k":"stage2"},{"c":54,"k":"stage2"},{"c":58,"k":"stage2"},{"c":62,"k":"stage1"},{"c":66,"k":"stage2"},{"c":69,"k":"stage2"},{"c":74,"k":"stage4"},{"c":80,"k":"stage2"},{"c":86,"k":"stage2"},{"c":92,"k":"stage1"},{"c":98,"k":"stage2"},{"c":104,"k":"stage4"},{"c":110,"k":"stage2"},{"c":118,"k":"stage1"},{"c":124,"k":"stage2"},{"c":129,"k":"stage2"},{"c":135,"k":"stage4"},{"c":141,"k":"stage2"},{"c":147,"k":"stage1"},{"c":153,"k":"stage2"},{"c":160,"k":"stage2"},{"c":166,"k":"stage4"},{"c":172,"k":"stage2"},{"c":178,"k":"stage1"},{"c":185,"k":"stage2"},{"c":192,"k":"stage4"},{"c":199,"k":"stage1"},{"c":206,"k":"stage2"},{"c":212,"k":"stage2"},{"c":219,"k":"stage4"},{"c":226,"k":"stage2"},{"c":233,"k":"stage1"},{"c":240,"k":"NA"},{"c":256,"k":"stage2"},{"c":258,"k":"stage2"},{"c":260,"k":"stage2"},{"c":268,"k":"stage1"},{"c":274,"k":"stage1"},{"c":280,"k":"stage2"},{"c":285,"k":"stage4"},{"c":290,"k":"stage1"},{"c":295,"k":"stage2"}],
"tme":[{"c":0,"c2":6,"v":-30},{"c":6,"c2":12,"v":-25},{"c":12,"c2":18,"v":-21},{"c":18,"c2":24,"v":-18.5},{"c":24,"c2":32,"v":-17},{"c":32,"c2":40,"v":-15.5},{"c":40,"c2":50,"v":-15},{"c":50,"c2":60,"v":-13.5},{"c":60,"c2":70,"v":-12},{"c":70,"c2":80,"v":-10.5},{"c":80,"c2":90,"v":-9},{"c":90,"c2":100,"v":-7.5},{"c":100,"c2":112,"v":-6},{"c":112,"c2":125,"v":-4},{"c":125,"c2":137,"v":-2.5},{"c":137,"c2":150,"v":-1},{"c":150,"c2":162,"v":0.5},{"c":162,"c2":175,"v":2},{"c":175,"c2":187,"v":3},{"c":187,"c2":200,"v":4},{"c":200,"c2":215,"v":5},{"c":215,"c2":225,"v":6},{"c":225,"c2":235,"v":7},{"c":235,"c2":245,"v":8},{"c":245,"c2":255,"v":9},{"c":255,"c2":265,"v":10.5},{"c":265,"c2":275,"v":12},{"c":275,"c2":283,"v":13.5},{"c":283,"c2":290,"v":15},{"c":290,"c2":295,"v":17},{"c":295,"c2":300,"v":20}],
"pur":[{"c":0,"c2":4,"v":0.3},{"c":4,"c2":8,"v":0.33},{"c":8,"c2":12,"v":0.36},{"c":12,"c2":18,"v":0.4},{"c":18,"c2":24,"v":0.45},{"c":24,"c2":32,"v":0.47},{"c":32,"c2":40,"v":0.49},{"c":40,"c2":50,"v":0.51},{"c":50,"c2":60,"v":0.53},{"c":60,"c2":70,"v":0.56},{"c":70,"c2":80,"v":0.58},{"c":80,"c2":90,"v":0.6},{"c":90,"c2":100,"v":0.62},{"c":100,"c2":112,"v":0.65},{"c":112,"c2":125,"v":0.68},{"c":125,"c2":135,"v":0.7},{"c":135,"c2":145,"v":0.71},{"c":145,"c2":155,"v":0.72},{"c":155,"c2":165,"v":0.735},{"c":165,"c2":175,"v":0.75},{"c":175,"c2":185,"v":0.765},{"c":185,"c2":195,"v":0.78},{"c":195,"c2":205,"v":0.79},{"c":205,"c2":215,"v":0.8},{"c":215,"c2":225,"v":0.81},{"c":225,"c2":235,"v":0.82},{"c":235,"c2":245,"v":0.83},{"c":245,"c2":255,"v":0.84},{"c":255,"c2":265,"v":0.855},{"c":265,"c2":275,"v":0.87},{"c":275,"c2":285,"v":0.88},{"c":285,"c2":300,"v":0.9}],
"bins":[{"lo":-1,"hi":-0.9},{"lo":-0.9,"hi":-0.8},{"lo":-0.8,"hi":-0.7},{"lo":-0.7,"hi":-0.6},{"lo":-0.6,"hi":-0.5},{"lo":-0.5,"hi":-0.4},{"lo":-0.4,"hi":-0.3},{"lo":-0.3,"hi":-0.2},{"lo":-0.2,"hi":-0.1},{"lo":-0.1,"hi":0},{"lo":0,"hi":0.1},{"lo":0.1,"hi":0.2},{"lo":0.2,"hi":0.3},{"lo":0.3,"hi":0.4},{"lo":0.4,"hi":0.5},{"lo":0.5,"hi":0.6},{"lo":0.6,"hi":0.7},{"lo":0.7,"hi":0.8},{"lo":0.8,"hi":0.9},{"lo":0.9,"hi":1}],
"clusters":[{"from":0,"to":2},{"from":2,"to":10},{"from":10,"to":14},{"from":14,"to":17},{"from":17,"to":35}],
"frames":[{"x":3.575,"x2":22.8,"y":26.19,"y2":31.8},{"x":3.625,"x2":22.86,"y":35.65,"y2":37.07},{"x":3.45,"x2":22.9,"y":73.95,"y2":79.37},{"x":3.4,"x2":23.02,"y":80.52,"y2":83.41},{"x":36.7,"x2":57.7,"y":37.28,"y2":40.16},{"x":36.93,"x2":62.2,"y":47.7,"y2":50.41}],
"links":[{"x":22.8,"x2":23.95,"y":28.88,"y2":28.88},{"x":22.86,"x2":23.95,"y":36.25,"y2":36.25},{"x":23.95,"x2":23.95,"y":28.88,"y2":36.25},{"x":23.95,"x2":30.88,"y":32.63,"y2":32.63},{"x":30.88,"x2":30.88,"y":32.63,"y2":38.62},{"x":30.88,"x2":36.7,"y":38.62,"y2":38.62},{"x":22.9,"x2":24.4,"y":76.59,"y2":76.59},{"x":23.02,"x2":24.4,"y":81.94,"y2":81.94},{"x":24.4,"x2":24.4,"y":76.59,"y2":81.94},{"x":24.4,"x2":30.88,"y":79.22,"y2":79.22},{"x":30.88,"x2":30.88,"y":48.88,"y2":79.22},{"x":30.88,"x2":36.93,"y":48.88,"y2":48.88}],
"letters":[{"x":0.2,"y":6.8,"t":"A"},{"x":35.8,"y":6.7,"t":"B"}],
"heads":[{"x":25.35,"y":23.5,"t":"TMEscore"},{"x":25.4,"y":70.1,"t":"purity"}]
},
"resolve":{"scale":{"x":"independent","y":"independent","fill":"independent","size":"independent"}},
"layer":[
{"encoding":{"fill":{"field":"r","type":"quantitative","legend":null,"scale":{"type":"threshold","domain":[-0.9,-0.8,-0.7,-0.6,-0.5,-0.4,-0.3,-0.2,-0.1,0,0.1,0.2,0.3,0.4,0.5,0.6,0.7,0.8,0.9],"range":["#4682B4","#5A8FBC","#6D9CC4","#80A9CC","#94B7D4","#A7C4DB","#BBD1E3","#CEDEEB","#E2EBF3","#F5F8FB","#FFF9F2","#FFEDD7","#FFE1BC","#FFD5A1","#FFC986","#FFBC6B","#FFB050","#FFA436","#FF981B","#FF8C00"]}},"size":{"field":"r","type":"quantitative","legend":null,"scale":{"domain":[-1,-0.85,-0.7,-0.55,-0.4,-0.2,0,0.2,0.4,0.55,0.7,0.85,1],"range":[3540,3292,2903,2407,1593,708,0,708,1593,2407,2903,3292,3540]}}},
"layer":[
{"data":{"name":"corr"},"mark":{"type":"square","filled":true,"opacity":1},"encoding":{"x":{"field":"a","type":"nominal","scale":{"type":"band","domain":["CRP","SPP1","immune.score","HGF","SERPINE1","FN1","THBS1","stromal.score","FBN1","VCAN","logTMB","TMEscore","IL1B","MMP9","CP","purity","ERBB2","POMC","F2","TTR","KNG1","HP","TF","APOB","APOA1","FGG","AHSG","APOA2","AFP","SERPINC1","IGF2","AGT","SERPINA1","ITIH2","VTN"],"range":[1654,3736],"paddingInner":0,"paddingOuter":0},"axis":{"orient":"top","offset":-217,"labelAngle":-90,"labelFontSize":31.5,"labelPadding":12}},"y":{"field":"b","type":"nominal","scale":{"type":"band","domain":["CRP","SPP1","immune.score","HGF","SERPINE1","FN1","THBS1","stromal.score","FBN1","VCAN","logTMB","TMEscore","IL1B","MMP9","CP","purity","ERBB2","POMC","F2","TTR","KNG1","HP","TF","APOB","APOA1","FGG","AHSG","APOA2","AFP","SERPINC1","IGF2","AGT","SERPINA1","ITIH2","VTN"],"range":[217,2300],"paddingInner":0,"paddingOuter":0},"axis":{"orient":"left","offset":-1654,"labelFontSize":31.5,"labelPadding":26}}}},
{"data":{"name":"corr"},"mark":{"type":"square","filled":true,"opacity":1},"encoding":{"x":{"field":"b","type":"nominal","scale":{"type":"band","domain":["CRP","SPP1","immune.score","HGF","SERPINE1","FN1","THBS1","stromal.score","FBN1","VCAN","logTMB","TMEscore","IL1B","MMP9","CP","purity","ERBB2","POMC","F2","TTR","KNG1","HP","TF","APOB","APOA1","FGG","AHSG","APOA2","AFP","SERPINC1","IGF2","AGT","SERPINA1","ITIH2","VTN"],"range":[1654,3736],"paddingInner":0,"paddingOuter":0}},"y":{"field":"a","type":"nominal","scale":{"type":"band","domain":["CRP","SPP1","immune.score","HGF","SERPINE1","FN1","THBS1","stromal.score","FBN1","VCAN","logTMB","TMEscore","IL1B","MMP9","CP","purity","ERBB2","POMC","F2","TTR","KNG1","HP","TF","APOB","APOA1","FGG","AHSG","APOA2","AFP","SERPINC1","IGF2","AGT","SERPINA1","ITIH2","VTN"],"range":[217,2300],"paddingInner":0,"paddingOuter":0}}}}
]},
{"layer":[
{"data":{"name":"lines"},"mark":{"type":"rule","stroke":"#BEBEBE","strokeWidth":3},"encoding":{"x":{"field":"i","type":"quantitative","axis":null,"scale":{"domain":[0,35],"range":[1654,3736]}},"y":{"datum":0,"type":"quantitative","axis":null,"scale":{"domain":[0,35],"range":[217,2300]}},"y2":{"datum":35}}},
{"data":{"name":"lines"},"mark":{"type":"rule","stroke":"#BEBEBE","strokeWidth":3},"encoding":{"y":{"field":"i","type":"quantitative","axis":null,"scale":{"domain":[0,35],"range":[217,2300]}},"x":{"datum":0,"type":"quantitative","axis":null,"scale":{"domain":[0,35],"range":[1654,3736]}},"x2":{"datum":35}}},
{"data":{"name":"clusters"},"mark":{"type":"rect","fill":"transparent","stroke":"#000","strokeWidth":4},"encoding":{"x":{"field":"from","type":"quantitative","axis":null,"scale":{"domain":[0,35],"range":[1654,3736]}},"x2":{"field":"to"},"y":{"field":"from","type":"quantitative","axis":null,"scale":{"domain":[0,35],"range":[217,2300]}},"y2":{"field":"to"}}}
]},
{"layer":[
{"data":{"name":"bins"},"mark":{"type":"rect"},"encoding":{"x":{"datum":0,"type":"quantitative","axis":null,"scale":{"domain":[0,1],"range":[3778,3855]}},"x2":{"datum":1},"y":{"field":"lo","type":"quantitative","scale":{"domain":[-1,1],"range":[2300,217]},"axis":{"orient":"right","offset":-145,"values":[-1,-0.9,-0.8,-0.7,-0.6,-0.5,-0.4,-0.3,-0.2,-0.1,0,0.1,0.2,0.3,0.4,0.5,0.6,0.7,0.8,0.9,1],"format":".1~f","ticks":true,"domain":true,"tickSize":20,"tickWidth":2.5,"domainWidth":2.5,"tickColor":"#000","domainColor":"#000","labelFontSize":36.5,"labelAlign":"center","labelPadding":83}},"y2":{"field":"hi"},"fill":{"field":"lo","type":"quantitative","legend":null,"scale":{"type":"threshold","domain":[-0.9,-0.8,-0.7,-0.6,-0.5,-0.4,-0.3,-0.2,-0.1,0,0.1,0.2,0.3,0.4,0.5,0.6,0.7,0.8,0.9],"range":["#4682B4","#5A8FBC","#6D9CC4","#80A9CC","#94B7D4","#A7C4DB","#BBD1E3","#CEDEEB","#E2EBF3","#F5F8FB","#FFF9F2","#FFEDD7","#FFE1BC","#FFD5A1","#FFC986","#FFBC6B","#FFB050","#FFA436","#FF981B","#FF8C00"]}}}},
{"data":{"values":[{"lo":-1,"hi":1}]},"mark":{"type":"rect","fill":"transparent","stroke":"#000","strokeWidth":2.5},"encoding":{"x":{"datum":0,"type":"quantitative","axis":null,"scale":{"domain":[0,1],"range":[3778,3855]}},"x2":{"datum":1},"y":{"field":"lo","type":"quantitative"},"y2":{"field":"hi"}}}
]},
{"encoding":{"x":{"field":"c","type":"quantitative","axis":null,"scale":{"domain":[0,300],"range":[158,825]}},"y":{"datum":"MSS status","type":"nominal","scale":{"type":"band","domain":["MSS status","Subtype","TMEscore"],"range":[210.7,281],"paddingInner":0.18,"paddingOuter":0},"axis":{"orient":"right","offset":-3175,"labelFontSize":20.5,"labelFontWeight":"bold","labelPadding":8}},"fill":{"field":"k","type":"nominal","scale":{"domain":["MSS","MSI","NA"],"range":["#CD2626","#00EE76","#7F7F7F"]},"legend":{"title":"MSS status","legendX":1014,"legendY":205}}},
"layer":[{"data":{"name":"ssA"},"mark":"rect","encoding":{"x2":{"field":"c2"}}},{"data":{"name":"ssAt"},"mark":{"type":"tick","thickness":2.2,"size":20.4,"opacity":1}}]},
{"encoding":{"x":{"field":"c","type":"quantitative","axis":null,"scale":{"domain":[0,300],"range":[158,825]}},"y":{"datum":"Subtype","type":"nominal","axis":null,"scale":{"type":"band","domain":["MSS status","Subtype","TMEscore"],"range":[210.7,281],"paddingInner":0.18,"paddingOuter":0}},"fill":{"field":"k","type":"nominal","scale":{"domain":["stage1","stage2","stage3","stage4","NA"],"range":["#FFD700","#CD2626","#FF7F00","#1E90FF","#7F7F7F"]},"legend":{"title":"Subtype","legendX":1014,"legendY":339}}},
"layer":[{"data":{"values":[{"c":0,"c2":300,"k":"stage3"}]},"mark":"rect","encoding":{"x2":{"field":"c2"}}},{"data":{"name":"stA"},"mark":{"type":"tick","thickness":2.4,"size":20.4,"opacity":1}}]},
{"data":{"name":"tme"},"mark":"rect","encoding":{"x":{"field":"c","type":"quantitative","axis":null,"scale":{"domain":[0,300],"range":[158,825]}},"x2":{"field":"c2"},"y":{"datum":"TMEscore","type":"nominal","axis":null,"scale":{"type":"band","domain":["MSS status","Subtype","TMEscore"],"range":[210.7,281],"paddingInner":0.18,"paddingOuter":0}},"fill":{"field":"v","type":"quantitative","legend":null,"scale":{"interpolate":"rgb","domain":[-30,-15,-7,1,5,13.5,20],"range":["#483D8B","#63B8FF","#BBDCF8","#DDE5C9","#FFEC8B","#FFA500","#CD3700"]}}}},
{"encoding":{"x":{"field":"c","type":"quantitative","axis":null,"scale":{"domain":[0,300],"range":[158,825]}},"y":{"field":"g","type":"nominal","scale":{"type":"band","domain":["FGG","AFP","KNG1","APOA2","SPP1","SERPINA1","ERBB2","MMP9","IL1B"],"range":[287.2,569.4],"paddingInner":0,"paddingOuter":0},"axis":{"orient":"right","offset":-3175,"labelFontSize":20.5,"labelPadding":8}},"fill":{"field":"v","type":"quantitative","scale":{"interpolate":"rgb","domain":[-1.13,-0.45,0,0.35,1,1.57,2.4,3.02],"range":["#483D8B","#6A5ACD","#6495ED","#63B8FF","#C6DFF5","#FFEC8B","#FFA500","#CD3700"]},"legend":{"title":null,"legendX":953,"legendY":208,"gradientLength":313,"gradientThickness":20,"values":[-1,0,1,2,3],"format":"d","labelOffset":8,"direction":"vertical"}}},
"layer":[{"data":{"name":"a1base"},"mark":"rect","encoding":{"x2":{"field":"c2"}}},{"data":{"name":"a1"},"mark":{"type":"tick","thickness":2.2,"size":31.4,"opacity":1}}]},
{"encoding":{"x":{"field":"c","type":"quantitative","axis":null,"scale":{"domain":[0,300],"range":[158,825]}},"y":{"field":"g","type":"nominal","scale":{"type":"band","domain":["IGF2","FBN1","THBS1","HGF","VCAN","AGT","TF","VTN","FN1","TTR","APOB","POMC","HP","APOA1","SERPINE1","F2","CRP","CP","ITIH2","SERPINC1","AHSG"],"range":[578.6,1235],"paddingInner":0,"paddingOuter":0},"axis":{"orient":"right","offset":-3175,"labelFontSize":20.5,"labelPadding":8}},"fill":{"field":"v","type":"quantitative","legend":null,"scale":{"interpolate":"rgb","domain":[-1.13,-0.45,0,0.35,1,1.57,2.4,3.02],"range":["#483D8B","#6A5ACD","#6495ED","#63B8FF","#C6DFF5","#FFEC8B","#FFA500","#CD3700"]}}},
"layer":[{"data":{"name":"a2base"},"mark":"rect","encoding":{"x2":{"field":"c2"}}},{"data":{"name":"a2"},"mark":{"type":"tick","thickness":2.2,"size":31.3,"opacity":1}}]},
{"data":{"values":[{"k":"20"},{"k":"a"},{"k":"b"},{"k":"\u221230"}]},"mark":"rect","encoding":{"x":{"datum":0,"type":"quantitative","axis":null,"scale":{"domain":[0,1],"range":[1014,1043]}},"x2":{"datum":1},"y":{"field":"k","type":"nominal","scale":{"type":"band","domain":["20","a","b","\u221230"],"range":[560,680],"paddingInner":0,"paddingOuter":0},"axis":{"orient":"right","offset":-2957,"labelFontSize":20.5,"labelPadding":5,"labelExpr":"datum.value=='a'||datum.value=='b'?'':datum.label"}},"fill":{"field":"k","type":"nominal","legend":null,"scale":{"domain":["20","a","b","\u221230"],"range":["#CD3700","#FFEC8B","#63B8FF","#483D8B"]}}}},
{"encoding":{"x":{"field":"c","type":"quantitative","axis":null,"scale":{"domain":[0,300],"range":[152,833]}},"y":{"datum":"MSS status","type":"nominal","scale":{"type":"band","domain":["MSS status","Subtype","purity"],"range":[1299.6,1368],"paddingInner":0.18,"paddingOuter":0},"axis":{"orient":"right","offset":-3167,"labelFontSize":20.5,"labelFontWeight":"bold","labelPadding":6.5}},"fill":{"field":"k","type":"nominal","scale":{"domain":["MSS","MSI","NA"],"range":["#CD2626","#00EE76","#7F7F7F"]},"legend":{"title":"MSS status","legendX":1016,"legendY":1293}}},
"layer":[{"data":{"name":"ssB"},"mark":"rect","encoding":{"x2":{"field":"c2"}}},{"data":{"name":"ssBt"},"mark":{"type":"tick","thickness":2.2,"size":19.8,"opacity":1}}]},
{"encoding":{"x":{"field":"c","type":"quantitative","axis":null,"scale":{"domain":[0,300],"range":[152,833]}},"y":{"datum":"Subtype","type":"nominal","axis":null,"scale":{"type":"band","domain":["MSS status","Subtype","purity"],"range":[1299.6,1368],"paddingInner":0.18,"paddingOuter":0}},"fill":{"field":"k","type":"nominal","scale":{"domain":["stage1","stage2","stage3","stage4","NA"],"range":["#FFD700","#CD2626","#FF7F00","#1E90FF","#7F7F7F"]},"legend":{"title":"Subtype","legendX":1016,"legendY":1424}}},
"layer":[{"data":{"values":[{"c":0,"c2":300,"k":"stage3"}]},"mark":"rect","encoding":{"x2":{"field":"c2"}}},{"data":{"name":"stB"},"mark":{"type":"tick","thickness":2.4,"size":19.8,"opacity":1}}]},
{"data":{"name":"pur"},"mark":"rect","encoding":{"x":{"field":"c","type":"quantitative","axis":null,"scale":{"domain":[0,300],"range":[152,833]}},"x2":{"field":"c2"},"y":{"datum":"purity","type":"nominal","axis":null,"scale":{"type":"band","domain":["MSS status","Subtype","purity"],"range":[1299.6,1368],"paddingInner":0.18,"paddingOuter":0}},"fill":{"field":"v","type":"quantitative","legend":null,"scale":{"interpolate":"rgb","domain":[0.3,0.45,0.56,0.6,0.7,0.8,0.9],"range":["#483D8B","#63B8FF","#BBDCF8","#DDE5C9","#FFEC8B","#FFA500","#CD3700"]}}}},
{"encoding":{"x":{"field":"c","type":"quantitative","axis":null,"scale":{"domain":[0,300],"range":[152,833]}},"y":{"field":"g","type":"nominal","scale":{"type":"band","domain":["SERPINA1","TTR","APOA2","APOA1","AFP","SERPINC1","FGG","KNG1","AHSG","F2","ERBB2"],"range":[1374.6,1709.8],"paddingInner":0,"paddingOuter":0},"axis":{"orient":"right","offset":-3167,"labelFontSize":20.5,"labelPadding":6.5}},"fill":{"field":"v","type":"quantitative","scale":{"interpolate":"rgb","domain":[-1.13,-0.45,0,0.35,1,1.57,2.4,3.02],"range":["#483D8B","#6A5ACD","#6495ED","#63B8FF","#C6DFF5","#FFEC8B","#FFA500","#CD3700"]},"legend":{"title":null,"legendX":957,"legendY":1297,"gradientLength":304,"gradientThickness":20,"values":[-1,0,1,2,3],"format":"d","labelOffset":8,"direction":"vertical"}}},
"layer":[{"data":{"name":"b1base"},"mark":"rect","encoding":{"x2":{"field":"c2"}}},{"data":{"name":"b1"},"mark":{"type":"tick","thickness":2.2,"size":30.5,"opacity":1}}]},
{"encoding":{"x":{"field":"c","type":"quantitative","axis":null,"scale":{"domain":[0,300],"range":[152,833]}},"y":{"field":"g","type":"nominal","scale":{"type":"band","domain":["FBN1","THBS1","HGF","VCAN","POMC","FN1","MMP9","SERPINE1","CP","IGF2","HP","AGT","VTN","SPP1","APOB","TF","IL1B","ITIH2","CRP"],"range":[1718.8,2299.5],"paddingInner":0,"paddingOuter":0},"axis":{"orient":"right","offset":-3167,"labelFontSize":20.5,"labelPadding":6.5}},"fill":{"field":"v","type":"quantitative","legend":null,"scale":{"interpolate":"rgb","domain":[-1.13,-0.45,0,0.35,1,1.57,2.4,3.02],"range":["#483D8B","#6A5ACD","#6495ED","#63B8FF","#C6DFF5","#FFEC8B","#FFA500","#CD3700"]}}},
"layer":[{"data":{"name":"b2base"},"mark":"rect","encoding":{"x2":{"field":"c2"}}},{"data":{"name":"b2"},"mark":{"type":"tick","thickness":2.2,"size":30.6,"opacity":1}}]},
{"data":{"values":[{"k":"0.9"},{"k":"a"},{"k":"b"},{"k":"0.3"}]},"mark":"rect","encoding":{"x":{"datum":0,"type":"quantitative","axis":null,"scale":{"domain":[0,1],"range":[1016,1045]}},"x2":{"datum":1},"y":{"field":"k","type":"nominal","scale":{"type":"band","domain":["0.9","a","b","0.3"],"range":[1640,1756],"paddingInner":0,"paddingOuter":0},"axis":{"orient":"right","offset":-2955,"labelFontSize":20.5,"labelPadding":5,"labelExpr":"datum.value=='a'||datum.value=='b'?'':datum.label"}},"fill":{"field":"k","type":"nominal","legend":null,"scale":{"domain":["0.9","a","b","0.3"],"range":["#CD3700","#FFEC8B","#63B8FF","#483D8B"]}}}},
{"layer":[
{"data":{"name":"frames"},"mark":{"type":"rect","fill":"transparent","stroke":"#7A0C0C","strokeWidth":6},"encoding":{"x":{"field":"x","type":"quantitative","axis":null,"scale":{"domain":[0,100],"range":[0,4000]}},"x2":{"field":"x2"},"y":{"field":"y","type":"quantitative","axis":null,"scale":{"domain":[0,100],"range":[0,2320]}},"y2":{"field":"y2"}}},
{"data":{"name":"links"},"mark":{"type":"rule","stroke":"#7A0C0C","strokeWidth":7,"strokeCap":"square"},"encoding":{"x":{"field":"x","type":"quantitative","axis":null,"scale":{"domain":[0,100],"range":[0,4000]}},"x2":{"field":"x2"},"y":{"field":"y","type":"quantitative","axis":null,"scale":{"domain":[0,100],"range":[0,2320]}},"y2":{"field":"y2"}}},
{"data":{"name":"letters"},"mark":{"type":"text","fontSize":60,"fontWeight":"bold","align":"left","baseline":"middle","color":"#000"},"encoding":{"x":{"field":"x","type":"quantitative","axis":null,"scale":{"domain":[0,100],"range":[0,4000]}},"y":{"field":"y","type":"quantitative","axis":null,"scale":{"domain":[0,100],"range":[0,2320]}},"text":{"field":"t"}}},
{"data":{"name":"heads"},"mark":{"type":"text","fontSize":20.5,"fontWeight":"bold","align":"left","baseline":"middle","color":"#000"},"encoding":{"x":{"field":"x","type":"quantitative","axis":null,"scale":{"domain":[0,100],"range":[0,4000]}},"y":{"field":"y","type":"quantitative","axis":null,"scale":{"domain":[0,100],"range":[0,2320]}},"text":{"field":"t"}}}
]}
]}
